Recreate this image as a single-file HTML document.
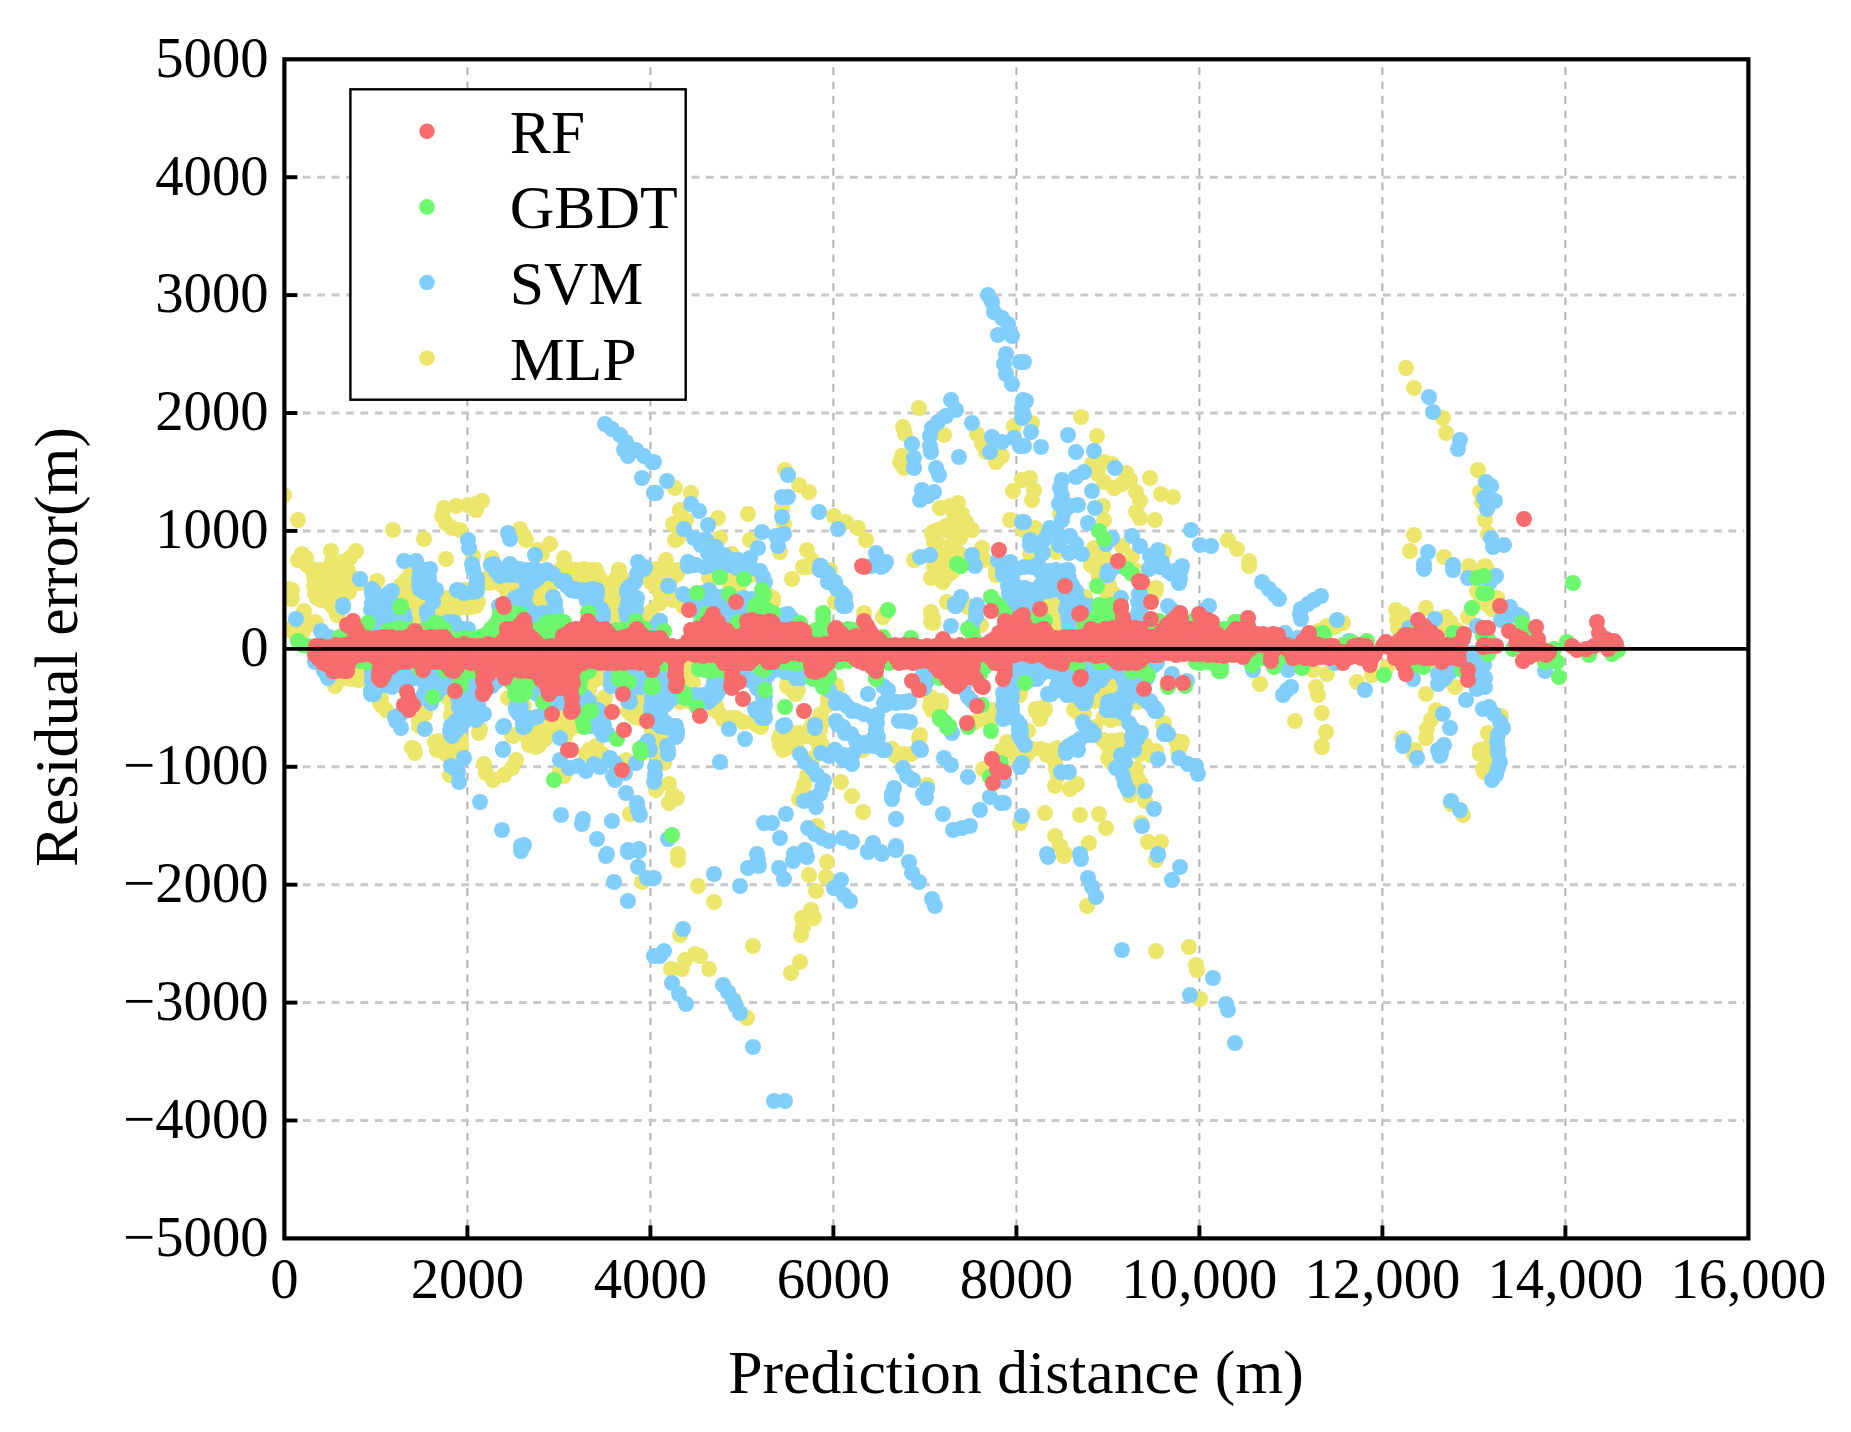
<!DOCTYPE html>
<html><head><meta charset="utf-8"><title>Residual error</title>
<style>html,body{margin:0;padding:0;background:#fff}svg{display:block}text{font-family:"Liberation Serif",serif;fill:#000}</style></head><body>
<svg width="1851" height="1432" viewBox="0 0 1851 1432">
<rect width="1851" height="1432" fill="#fff"/>
<g stroke="#b2b2b2" stroke-width="2" stroke-dasharray="7.6 6.8" fill="none"><line x1="467.4" y1="67.3" x2="467.4" y2="1238.4"/><line x1="650.4" y1="67.3" x2="650.4" y2="1238.4"/><line x1="833.4" y1="67.3" x2="833.4" y2="1238.4"/><line x1="1016.4" y1="67.3" x2="1016.4" y2="1238.4"/><line x1="1199.4" y1="67.3" x2="1199.4" y2="1238.4"/><line x1="1382.4" y1="67.3" x2="1382.4" y2="1238.4"/><line x1="1565.4" y1="67.3" x2="1565.4" y2="1238.4"/></g>
<g stroke="#c8c8c8" stroke-width="3" stroke-dasharray="7.8 6.6" fill="none"><line x1="288.4" y1="1120.5" x2="1744.4" y2="1120.5"/><line x1="288.4" y1="1002.6" x2="1744.4" y2="1002.6"/><line x1="288.4" y1="884.7" x2="1744.4" y2="884.7"/><line x1="288.4" y1="766.8" x2="1744.4" y2="766.8"/><line x1="288.4" y1="530.9" x2="1744.4" y2="530.9"/><line x1="288.4" y1="413.0" x2="1744.4" y2="413.0"/><line x1="288.4" y1="295.1" x2="1744.4" y2="295.1"/><line x1="288.4" y1="177.2" x2="1744.4" y2="177.2"/></g>
<clipPath id="cp"><rect x="284.4" y="59.3" width="1464.0" height="1179.1000000000001"/></clipPath>
<g clip-path="url(#cp)">
<g fill="#ECE66B">
<circle cx="284" cy="495" r="8"/><circle cx="298" cy="520" r="8"/><circle cx="393" cy="530" r="8"/><circle cx="424" cy="539" r="8"/><circle cx="444" cy="508" r="8"/><circle cx="456" cy="506" r="8"/><circle cx="468" cy="505" r="8"/><circle cx="476" cy="504" r="8"/><circle cx="482" cy="501" r="8"/><circle cx="442" cy="516" r="8"/><circle cx="446" cy="523" r="8"/><circle cx="452" cy="528" r="8"/><circle cx="460" cy="530" r="8"/><circle cx="476" cy="510" r="8"/><circle cx="520" cy="529" r="8"/><circle cx="524" cy="536" r="8"/><circle cx="526" cy="540" r="8"/><circle cx="550" cy="544" r="8"/><circle cx="542" cy="554" r="8"/><circle cx="538" cy="550" r="8"/><circle cx="564" cy="558" r="8"/><circle cx="446" cy="559" r="8"/><circle cx="492" cy="558" r="8"/><circle cx="473" cy="556" r="8"/><circle cx="302" cy="554" r="8"/><circle cx="306" cy="558" r="8"/><circle cx="331" cy="551" r="8"/><circle cx="356" cy="551" r="8"/><circle cx="350" cy="558" r="8"/><circle cx="342" cy="562" r="8"/><circle cx="332" cy="562" r="8"/><circle cx="298" cy="560" r="8"/><circle cx="919" cy="408" r="8"/><circle cx="903" cy="427" r="8"/><circle cx="905" cy="434" r="8"/><circle cx="944" cy="435" r="8"/><circle cx="902" cy="456" r="8"/><circle cx="900" cy="462" r="8"/><circle cx="904" cy="468" r="8"/><circle cx="977" cy="434" r="8"/><circle cx="982" cy="444" r="8"/><circle cx="986" cy="452" r="8"/><circle cx="996" cy="462" r="8"/><circle cx="1002" cy="456" r="8"/><circle cx="1014" cy="426" r="8"/><circle cx="785" cy="470" r="8"/><circle cx="799" cy="485" r="8"/><circle cx="809" cy="492" r="8"/><circle cx="675" cy="488" r="8"/><circle cx="691" cy="493" r="8"/><circle cx="680" cy="510" r="8"/><circle cx="674" cy="524" r="8"/><circle cx="678" cy="538" r="8"/><circle cx="686" cy="520" r="8"/><circle cx="718" cy="518" r="8"/><circle cx="720" cy="538" r="8"/><circle cx="732" cy="554" r="8"/><circle cx="748" cy="514" r="8"/><circle cx="750" cy="540" r="8"/><circle cx="782" cy="508" r="8"/><circle cx="784" cy="524" r="8"/><circle cx="834" cy="516" r="8"/><circle cx="846" cy="522" r="8"/><circle cx="858" cy="528" r="8"/><circle cx="866" cy="540" r="8"/><circle cx="807" cy="550" r="8"/><circle cx="812" cy="560" r="8"/><circle cx="780" cy="552" r="8"/><circle cx="666" cy="560" r="8"/><circle cx="958" cy="503" r="8"/><circle cx="950" cy="506" r="8"/><circle cx="940" cy="508" r="8"/><circle cx="954" cy="514" r="8"/><circle cx="962" cy="514" r="8"/><circle cx="958" cy="522" r="8"/><circle cx="966" cy="522" r="8"/><circle cx="946" cy="526" r="8"/><circle cx="938" cy="530" r="8"/><circle cx="932" cy="534" r="8"/><circle cx="950" cy="532" r="8"/><circle cx="962" cy="530" r="8"/><circle cx="972" cy="530" r="8"/><circle cx="934" cy="542" r="8"/><circle cx="952" cy="544" r="8"/><circle cx="960" cy="538" r="8"/><circle cx="948" cy="554" r="8"/><circle cx="960" cy="554" r="8"/><circle cx="982" cy="548" r="8"/><circle cx="984" cy="560" r="8"/><circle cx="942" cy="562" r="8"/><circle cx="1013" cy="491" r="8"/><circle cx="1010" cy="520" r="8"/><circle cx="1022" cy="480" r="8"/><circle cx="1023" cy="530" r="8"/><circle cx="914" cy="560" r="8"/><circle cx="1081" cy="417" r="8"/><circle cx="1097" cy="436" r="8"/><circle cx="1032" cy="423" r="8"/><circle cx="1150" cy="478" r="8"/><circle cx="1161" cy="494" r="8"/><circle cx="1173" cy="497" r="8"/><circle cx="1030" cy="478" r="8"/><circle cx="1034" cy="490" r="8"/><circle cx="1032" cy="500" r="8"/><circle cx="1092" cy="464" r="8"/><circle cx="1104" cy="462" r="8"/><circle cx="1112" cy="464" r="8"/><circle cx="1098" cy="474" r="8"/><circle cx="1126" cy="473" r="8"/><circle cx="1130" cy="480" r="8"/><circle cx="1104" cy="482" r="8"/><circle cx="1114" cy="488" r="8"/><circle cx="1122" cy="484" r="8"/><circle cx="1136" cy="492" r="8"/><circle cx="1140" cy="501" r="8"/><circle cx="1136" cy="512" r="8"/><circle cx="1140" cy="518" r="8"/><circle cx="1103" cy="506" r="8"/><circle cx="1104" cy="520" r="8"/><circle cx="1155" cy="520" r="8"/><circle cx="1228" cy="540" r="8"/><circle cx="1237" cy="549" r="8"/><circle cx="1249" cy="561" r="8"/><circle cx="1035" cy="528" r="8"/><circle cx="1094" cy="548" r="8"/><circle cx="1104" cy="556" r="8"/><circle cx="1094" cy="560" r="8"/><circle cx="1122" cy="546" r="8"/><circle cx="1132" cy="556" r="8"/><circle cx="1164" cy="552" r="8"/><circle cx="1056" cy="552" r="8"/><circle cx="1030" cy="554" r="8"/><circle cx="1060" cy="514" r="8"/><circle cx="1406" cy="368" r="8"/><circle cx="1414" cy="388" r="8"/><circle cx="1443" cy="418" r="8"/><circle cx="1446" cy="433" r="8"/><circle cx="1478" cy="470" r="8"/><circle cx="1480" cy="492" r="8"/><circle cx="1482" cy="502" r="8"/><circle cx="1485" cy="520" r="8"/><circle cx="1488" cy="534" r="8"/><circle cx="1414" cy="535" r="8"/><circle cx="1410" cy="551" r="8"/><circle cx="1444" cy="557" r="8"/><circle cx="1469" cy="566" r="8"/><circle cx="1485" cy="566" r="8"/><circle cx="642" cy="882" r="8"/><circle cx="678" cy="860" r="8"/><circle cx="698" cy="886" r="8"/><circle cx="714" cy="902" r="8"/><circle cx="680" cy="935" r="8"/><circle cx="695" cy="954" r="8"/><circle cx="700" cy="956" r="8"/><circle cx="685" cy="960" r="8"/><circle cx="682" cy="969" r="8"/><circle cx="671" cy="969" r="8"/><circle cx="709" cy="969" r="8"/><circle cx="753" cy="946" r="8"/><circle cx="747" cy="1018" r="8"/><circle cx="734" cy="1000" r="8"/><circle cx="827" cy="862" r="8"/><circle cx="809" cy="875" r="8"/><circle cx="826" cy="877" r="8"/><circle cx="816" cy="891" r="8"/><circle cx="811" cy="910" r="8"/><circle cx="802" cy="918" r="8"/><circle cx="814" cy="918" r="8"/><circle cx="803" cy="927" r="8"/><circle cx="801" cy="935" r="8"/><circle cx="800" cy="962" r="8"/><circle cx="791" cy="973" r="8"/><circle cx="1064" cy="856" r="8"/><circle cx="1156" cy="860" r="8"/><circle cx="1087" cy="906" r="8"/><circle cx="1156" cy="951" r="8"/><circle cx="1189" cy="947" r="8"/><circle cx="1196" cy="965" r="8"/><circle cx="1197" cy="970" r="8"/><circle cx="1200" cy="999" r="8"/><circle cx="307" cy="565" r="8"/><circle cx="312" cy="569" r="8"/><circle cx="320" cy="570" r="8"/><circle cx="327" cy="570" r="8"/><circle cx="335" cy="570" r="8"/><circle cx="343" cy="569" r="8"/><circle cx="348" cy="571" r="8"/><circle cx="411" cy="569" r="8"/><circle cx="314" cy="577" r="8"/><circle cx="320" cy="578" r="8"/><circle cx="328" cy="578" r="8"/><circle cx="336" cy="577" r="8"/><circle cx="345" cy="579" r="8"/><circle cx="351" cy="578" r="8"/><circle cx="377" cy="581" r="8"/><circle cx="405" cy="581" r="8"/><circle cx="408" cy="579" r="8"/><circle cx="488" cy="578" r="8"/><circle cx="289" cy="589" r="8"/><circle cx="292" cy="590" r="8"/><circle cx="314" cy="586" r="8"/><circle cx="319" cy="585" r="8"/><circle cx="327" cy="587" r="8"/><circle cx="335" cy="585" r="8"/><circle cx="344" cy="587" r="8"/><circle cx="351" cy="586" r="8"/><circle cx="360" cy="583" r="8"/><circle cx="401" cy="585" r="8"/><circle cx="407" cy="585" r="8"/><circle cx="464" cy="590" r="8"/><circle cx="489" cy="583" r="8"/><circle cx="496" cy="582" r="8"/><circle cx="503" cy="586" r="8"/><circle cx="511" cy="585" r="8"/><circle cx="519" cy="585" r="8"/><circle cx="288" cy="593" r="8"/><circle cx="291" cy="593" r="8"/><circle cx="315" cy="594" r="8"/><circle cx="319" cy="595" r="8"/><circle cx="328" cy="593" r="8"/><circle cx="335" cy="594" r="8"/><circle cx="344" cy="593" r="8"/><circle cx="349" cy="592" r="8"/><circle cx="399" cy="595" r="8"/><circle cx="408" cy="593" r="8"/><circle cx="447" cy="598" r="8"/><circle cx="508" cy="595" r="8"/><circle cx="287" cy="598" r="8"/><circle cx="292" cy="599" r="8"/><circle cx="317" cy="598" r="8"/><circle cx="321" cy="600" r="8"/><circle cx="329" cy="602" r="8"/><circle cx="335" cy="601" r="8"/><circle cx="409" cy="602" r="8"/><circle cx="415" cy="603" r="8"/><circle cx="424" cy="603" r="8"/><circle cx="440" cy="603" r="8"/><circle cx="449" cy="601" r="8"/><circle cx="455" cy="601" r="8"/><circle cx="465" cy="603" r="8"/><circle cx="471" cy="603" r="8"/><circle cx="478" cy="602" r="8"/><circle cx="304" cy="611" r="8"/><circle cx="332" cy="606" r="8"/><circle cx="335" cy="609" r="8"/><circle cx="416" cy="609" r="8"/><circle cx="439" cy="610" r="8"/><circle cx="449" cy="610" r="8"/><circle cx="456" cy="610" r="8"/><circle cx="464" cy="607" r="8"/><circle cx="471" cy="607" r="8"/><circle cx="476" cy="606" r="8"/><circle cx="315" cy="622" r="8"/><circle cx="316" cy="623" r="8"/><circle cx="337" cy="615" r="8"/><circle cx="415" cy="619" r="8"/><circle cx="288" cy="629" r="8"/><circle cx="295" cy="626" r="8"/><circle cx="304" cy="630" r="8"/><circle cx="311" cy="624" r="8"/><circle cx="288" cy="629" r="8"/><circle cx="295" cy="633" r="8"/><circle cx="301" cy="634" r="8"/><circle cx="359" cy="675" r="8"/><circle cx="337" cy="682" r="8"/><circle cx="345" cy="678" r="8"/><circle cx="351" cy="679" r="8"/><circle cx="359" cy="680" r="8"/><circle cx="335" cy="686" r="8"/><circle cx="381" cy="699" r="8"/><circle cx="447" cy="697" r="8"/><circle cx="508" cy="698" r="8"/><circle cx="380" cy="703" r="8"/><circle cx="381" cy="705" r="8"/><circle cx="423" cy="705" r="8"/><circle cx="452" cy="706" r="8"/><circle cx="386" cy="710" r="8"/><circle cx="425" cy="714" r="8"/><circle cx="451" cy="715" r="8"/><circle cx="420" cy="726" r="8"/><circle cx="419" cy="721" r="8"/><circle cx="419" cy="726" r="8"/><circle cx="480" cy="729" r="8"/><circle cx="512" cy="735" r="8"/><circle cx="435" cy="742" r="8"/><circle cx="439" cy="741" r="8"/><circle cx="461" cy="739" r="8"/><circle cx="479" cy="733" r="8"/><circle cx="513" cy="736" r="8"/><circle cx="412" cy="748" r="8"/><circle cx="414" cy="749" r="8"/><circle cx="437" cy="746" r="8"/><circle cx="441" cy="745" r="8"/><circle cx="449" cy="745" r="8"/><circle cx="456" cy="747" r="8"/><circle cx="461" cy="745" r="8"/><circle cx="561" cy="569" r="8"/><circle cx="569" cy="569" r="8"/><circle cx="576" cy="570" r="8"/><circle cx="584" cy="569" r="8"/><circle cx="592" cy="570" r="8"/><circle cx="596" cy="570" r="8"/><circle cx="619" cy="570" r="8"/><circle cx="619" cy="570" r="8"/><circle cx="656" cy="569" r="8"/><circle cx="664" cy="569" r="8"/><circle cx="671" cy="570" r="8"/><circle cx="679" cy="570" r="8"/><circle cx="576" cy="579" r="8"/><circle cx="583" cy="577" r="8"/><circle cx="592" cy="578" r="8"/><circle cx="599" cy="577" r="8"/><circle cx="607" cy="583" r="8"/><circle cx="616" cy="579" r="8"/><circle cx="623" cy="579" r="8"/><circle cx="649" cy="578" r="8"/><circle cx="656" cy="579" r="8"/><circle cx="663" cy="579" r="8"/><circle cx="672" cy="578" r="8"/><circle cx="677" cy="574" r="8"/><circle cx="709" cy="578" r="8"/><circle cx="712" cy="579" r="8"/><circle cx="729" cy="577" r="8"/><circle cx="737" cy="577" r="8"/><circle cx="752" cy="575" r="8"/><circle cx="544" cy="587" r="8"/><circle cx="551" cy="585" r="8"/><circle cx="607" cy="587" r="8"/><circle cx="615" cy="585" r="8"/><circle cx="651" cy="582" r="8"/><circle cx="655" cy="586" r="8"/><circle cx="730" cy="586" r="8"/><circle cx="736" cy="585" r="8"/><circle cx="739" cy="587" r="8"/><circle cx="535" cy="594" r="8"/><circle cx="544" cy="594" r="8"/><circle cx="609" cy="594" r="8"/><circle cx="615" cy="593" r="8"/><circle cx="660" cy="593" r="8"/><circle cx="664" cy="594" r="8"/><circle cx="673" cy="594" r="8"/><circle cx="536" cy="603" r="8"/><circle cx="544" cy="602" r="8"/><circle cx="607" cy="601" r="8"/><circle cx="617" cy="602" r="8"/><circle cx="660" cy="603" r="8"/><circle cx="663" cy="599" r="8"/><circle cx="673" cy="600" r="8"/><circle cx="679" cy="601" r="8"/><circle cx="617" cy="611" r="8"/><circle cx="648" cy="614" r="8"/><circle cx="652" cy="611" r="8"/><circle cx="683" cy="606" r="8"/><circle cx="617" cy="617" r="8"/><circle cx="647" cy="618" r="8"/><circle cx="689" cy="667" r="8"/><circle cx="600" cy="673" r="8"/><circle cx="688" cy="674" r="8"/><circle cx="593" cy="681" r="8"/><circle cx="600" cy="678" r="8"/><circle cx="689" cy="683" r="8"/><circle cx="693" cy="683" r="8"/><circle cx="589" cy="690" r="8"/><circle cx="599" cy="702" r="8"/><circle cx="605" cy="697" r="8"/><circle cx="639" cy="697" r="8"/><circle cx="524" cy="706" r="8"/><circle cx="604" cy="702" r="8"/><circle cx="639" cy="705" r="8"/><circle cx="680" cy="702" r="8"/><circle cx="689" cy="701" r="8"/><circle cx="716" cy="705" r="8"/><circle cx="561" cy="714" r="8"/><circle cx="628" cy="711" r="8"/><circle cx="631" cy="714" r="8"/><circle cx="641" cy="715" r="8"/><circle cx="715" cy="710" r="8"/><circle cx="719" cy="713" r="8"/><circle cx="729" cy="718" r="8"/><circle cx="734" cy="718" r="8"/><circle cx="544" cy="723" r="8"/><circle cx="552" cy="721" r="8"/><circle cx="560" cy="722" r="8"/><circle cx="569" cy="721" r="8"/><circle cx="575" cy="722" r="8"/><circle cx="635" cy="717" r="8"/><circle cx="639" cy="718" r="8"/><circle cx="723" cy="719" r="8"/><circle cx="728" cy="722" r="8"/><circle cx="736" cy="718" r="8"/><circle cx="743" cy="722" r="8"/><circle cx="752" cy="722" r="8"/><circle cx="536" cy="730" r="8"/><circle cx="543" cy="731" r="8"/><circle cx="551" cy="731" r="8"/><circle cx="559" cy="729" r="8"/><circle cx="569" cy="730" r="8"/><circle cx="575" cy="726" r="8"/><circle cx="652" cy="731" r="8"/><circle cx="757" cy="725" r="8"/><circle cx="761" cy="727" r="8"/><circle cx="528" cy="739" r="8"/><circle cx="536" cy="738" r="8"/><circle cx="545" cy="739" r="8"/><circle cx="552" cy="734" r="8"/><circle cx="565" cy="737" r="8"/><circle cx="655" cy="737" r="8"/><circle cx="663" cy="738" r="8"/><circle cx="529" cy="745" r="8"/><circle cx="536" cy="747" r="8"/><circle cx="539" cy="745" r="8"/><circle cx="589" cy="750" r="8"/><circle cx="592" cy="751" r="8"/><circle cx="596" cy="746" r="8"/><circle cx="656" cy="747" r="8"/><circle cx="803" cy="567" r="8"/><circle cx="808" cy="567" r="8"/><circle cx="830" cy="570" r="8"/><circle cx="949" cy="570" r="8"/><circle cx="953" cy="571" r="8"/><circle cx="996" cy="570" r="8"/><circle cx="792" cy="579" r="8"/><circle cx="931" cy="578" r="8"/><circle cx="935" cy="577" r="8"/><circle cx="945" cy="578" r="8"/><circle cx="949" cy="574" r="8"/><circle cx="996" cy="575" r="8"/><circle cx="828" cy="582" r="8"/><circle cx="943" cy="582" r="8"/><circle cx="768" cy="595" r="8"/><circle cx="773" cy="598" r="8"/><circle cx="773" cy="602" r="8"/><circle cx="835" cy="602" r="8"/><circle cx="947" cy="602" r="8"/><circle cx="968" cy="607" r="8"/><circle cx="864" cy="613" r="8"/><circle cx="931" cy="612" r="8"/><circle cx="931" cy="614" r="8"/><circle cx="967" cy="605" r="8"/><circle cx="883" cy="617" r="8"/><circle cx="885" cy="614" r="8"/><circle cx="933" cy="618" r="8"/><circle cx="932" cy="617" r="8"/><circle cx="933" cy="623" r="8"/><circle cx="931" cy="622" r="8"/><circle cx="981" cy="625" r="8"/><circle cx="788" cy="682" r="8"/><circle cx="836" cy="685" r="8"/><circle cx="787" cy="686" r="8"/><circle cx="793" cy="691" r="8"/><circle cx="798" cy="690" r="8"/><circle cx="837" cy="690" r="8"/><circle cx="795" cy="693" r="8"/><circle cx="796" cy="694" r="8"/><circle cx="828" cy="698" r="8"/><circle cx="931" cy="697" r="8"/><circle cx="935" cy="701" r="8"/><circle cx="941" cy="701" r="8"/><circle cx="828" cy="705" r="8"/><circle cx="930" cy="706" r="8"/><circle cx="936" cy="706" r="8"/><circle cx="941" cy="705" r="8"/><circle cx="992" cy="710" r="8"/><circle cx="820" cy="717" r="8"/><circle cx="821" cy="714" r="8"/><circle cx="932" cy="710" r="8"/><circle cx="988" cy="715" r="8"/><circle cx="991" cy="713" r="8"/><circle cx="812" cy="725" r="8"/><circle cx="823" cy="722" r="8"/><circle cx="975" cy="722" r="8"/><circle cx="984" cy="719" r="8"/><circle cx="991" cy="722" r="8"/><circle cx="781" cy="734" r="8"/><circle cx="791" cy="733" r="8"/><circle cx="799" cy="733" r="8"/><circle cx="809" cy="730" r="8"/><circle cx="820" cy="730" r="8"/><circle cx="920" cy="735" r="8"/><circle cx="779" cy="739" r="8"/><circle cx="785" cy="737" r="8"/><circle cx="793" cy="739" r="8"/><circle cx="799" cy="737" r="8"/><circle cx="807" cy="736" r="8"/><circle cx="815" cy="739" r="8"/><circle cx="819" cy="739" r="8"/><circle cx="919" cy="739" r="8"/><circle cx="780" cy="745" r="8"/><circle cx="784" cy="745" r="8"/><circle cx="791" cy="747" r="8"/><circle cx="796" cy="747" r="8"/><circle cx="819" cy="746" r="8"/><circle cx="823" cy="746" r="8"/><circle cx="892" cy="749" r="8"/><circle cx="1002" cy="750" r="8"/><circle cx="1091" cy="565" r="8"/><circle cx="1097" cy="569" r="8"/><circle cx="1137" cy="571" r="8"/><circle cx="1099" cy="578" r="8"/><circle cx="1104" cy="587" r="8"/><circle cx="1109" cy="585" r="8"/><circle cx="1152" cy="589" r="8"/><circle cx="1156" cy="588" r="8"/><circle cx="1085" cy="597" r="8"/><circle cx="1107" cy="594" r="8"/><circle cx="1113" cy="593" r="8"/><circle cx="1153" cy="594" r="8"/><circle cx="1156" cy="590" r="8"/><circle cx="1048" cy="602" r="8"/><circle cx="1056" cy="603" r="8"/><circle cx="1049" cy="610" r="8"/><circle cx="1056" cy="610" r="8"/><circle cx="1057" cy="618" r="8"/><circle cx="1057" cy="626" r="8"/><circle cx="1113" cy="682" r="8"/><circle cx="1020" cy="691" r="8"/><circle cx="1104" cy="690" r="8"/><circle cx="1111" cy="691" r="8"/><circle cx="1020" cy="695" r="8"/><circle cx="1097" cy="699" r="8"/><circle cx="1036" cy="709" r="8"/><circle cx="1039" cy="709" r="8"/><circle cx="1044" cy="707" r="8"/><circle cx="1076" cy="707" r="8"/><circle cx="1095" cy="701" r="8"/><circle cx="1137" cy="702" r="8"/><circle cx="1036" cy="711" r="8"/><circle cx="1040" cy="713" r="8"/><circle cx="1045" cy="710" r="8"/><circle cx="1074" cy="710" r="8"/><circle cx="1080" cy="715" r="8"/><circle cx="1084" cy="714" r="8"/><circle cx="1040" cy="719" r="8"/><circle cx="1095" cy="727" r="8"/><circle cx="1104" cy="717" r="8"/><circle cx="1111" cy="720" r="8"/><circle cx="1119" cy="718" r="8"/><circle cx="1164" cy="723" r="8"/><circle cx="1163" cy="725" r="8"/><circle cx="1028" cy="731" r="8"/><circle cx="1007" cy="742" r="8"/><circle cx="1103" cy="740" r="8"/><circle cx="1112" cy="741" r="8"/><circle cx="1120" cy="740" r="8"/><circle cx="1176" cy="741" r="8"/><circle cx="1182" cy="742" r="8"/><circle cx="1008" cy="745" r="8"/><circle cx="1017" cy="747" r="8"/><circle cx="1032" cy="749" r="8"/><circle cx="1041" cy="749" r="8"/><circle cx="1048" cy="751" r="8"/><circle cx="1057" cy="748" r="8"/><circle cx="1108" cy="746" r="8"/><circle cx="1112" cy="746" r="8"/><circle cx="1120" cy="747" r="8"/><circle cx="1145" cy="745" r="8"/><circle cx="1152" cy="751" r="8"/><circle cx="1156" cy="751" r="8"/><circle cx="1179" cy="747" r="8"/><circle cx="1180" cy="747" r="8"/><circle cx="1249" cy="566" r="8"/><circle cx="1319" cy="631" r="8"/><circle cx="1327" cy="626" r="8"/><circle cx="1335" cy="627" r="8"/><circle cx="1343" cy="623" r="8"/><circle cx="1396" cy="610" r="8"/><circle cx="1403" cy="614" r="8"/><circle cx="1397" cy="620" r="8"/><circle cx="1403" cy="623" r="8"/><circle cx="1398" cy="628" r="8"/><circle cx="1426" cy="608" r="8"/><circle cx="1446" cy="617" r="8"/><circle cx="1451" cy="623" r="8"/><circle cx="1446" cy="628" r="8"/><circle cx="1457" cy="630" r="8"/><circle cx="1468" cy="617" r="8"/><circle cx="1477" cy="591" r="8"/><circle cx="1470" cy="571" r="8"/><circle cx="1481" cy="602" r="8"/><circle cx="1260" cy="684" r="8"/><circle cx="1313" cy="670" r="8"/><circle cx="1327" cy="674" r="8"/><circle cx="1316" cy="687" r="8"/><circle cx="1318" cy="695" r="8"/><circle cx="1357" cy="682" r="8"/><circle cx="1372" cy="675" r="8"/><circle cx="1387" cy="667" r="8"/><circle cx="1426" cy="694" r="8"/><circle cx="1455" cy="687" r="8"/><circle cx="1295" cy="721" r="8"/><circle cx="1322" cy="713" r="8"/><circle cx="1326" cy="732" r="8"/><circle cx="1322" cy="746" r="8"/><circle cx="1436" cy="710" r="8"/><circle cx="1431" cy="720" r="8"/><circle cx="1427" cy="729" r="8"/><circle cx="1426" cy="738" r="8"/><circle cx="1402" cy="738" r="8"/><circle cx="1415" cy="750" r="8"/><circle cx="1480" cy="750" r="8"/><circle cx="1432" cy="665" r="8"/><circle cx="1487" cy="569" r="8"/><circle cx="1497" cy="598" r="8"/><circle cx="1488" cy="605" r="8"/><circle cx="1492" cy="609" r="8"/><circle cx="1501" cy="716" r="8"/><circle cx="1488" cy="733" r="8"/><circle cx="1487" cy="748" r="8"/><circle cx="415" cy="753" r="8"/><circle cx="437" cy="750" r="8"/><circle cx="446" cy="754" r="8"/><circle cx="451" cy="758" r="8"/><circle cx="450" cy="775" r="8"/><circle cx="484" cy="764" r="8"/><circle cx="486" cy="773" r="8"/><circle cx="493" cy="780" r="8"/><circle cx="504" cy="775" r="8"/><circle cx="512" cy="768" r="8"/><circle cx="516" cy="760" r="8"/><circle cx="594" cy="753" r="8"/><circle cx="602" cy="754" r="8"/><circle cx="586" cy="754" r="8"/><circle cx="626" cy="760" r="8"/><circle cx="564" cy="776" r="8"/><circle cx="560" cy="772" r="8"/><circle cx="659" cy="760" r="8"/><circle cx="664" cy="763" r="8"/><circle cx="669" cy="784" r="8"/><circle cx="656" cy="790" r="8"/><circle cx="673" cy="795" r="8"/><circle cx="677" cy="798" r="8"/><circle cx="669" cy="803" r="8"/><circle cx="630" cy="814" r="8"/><circle cx="678" cy="854" r="8"/><circle cx="807" cy="776" r="8"/><circle cx="804" cy="785" r="8"/><circle cx="802" cy="793" r="8"/><circle cx="799" cy="799" r="8"/><circle cx="841" cy="782" r="8"/><circle cx="852" cy="796" r="8"/><circle cx="863" cy="812" r="8"/><circle cx="895" cy="755" r="8"/><circle cx="903" cy="754" r="8"/><circle cx="911" cy="754" r="8"/><circle cx="899" cy="758" r="8"/><circle cx="983" cy="769" r="8"/><circle cx="817" cy="826" r="8"/><circle cx="813" cy="758" r="8"/><circle cx="927" cy="785" r="8"/><circle cx="1003" cy="751" r="8"/><circle cx="863" cy="750" r="8"/><circle cx="783" cy="750" r="8"/><circle cx="1008" cy="751" r="8"/><circle cx="1017" cy="760" r="8"/><circle cx="1027" cy="755" r="8"/><circle cx="1047" cy="755" r="8"/><circle cx="1055" cy="762" r="8"/><circle cx="1056" cy="769" r="8"/><circle cx="1058" cy="776" r="8"/><circle cx="1055" cy="786" r="8"/><circle cx="1070" cy="789" r="8"/><circle cx="1077" cy="784" r="8"/><circle cx="1020" cy="823" r="8"/><circle cx="1045" cy="813" r="8"/><circle cx="1080" cy="815" r="8"/><circle cx="1099" cy="814" r="8"/><circle cx="1106" cy="828" r="8"/><circle cx="1055" cy="836" r="8"/><circle cx="1060" cy="846" r="8"/><circle cx="1065" cy="854" r="8"/><circle cx="1089" cy="843" r="8"/><circle cx="1108" cy="758" r="8"/><circle cx="1112" cy="763" r="8"/><circle cx="1136" cy="769" r="8"/><circle cx="1138" cy="779" r="8"/><circle cx="1141" cy="784" r="8"/><circle cx="1145" cy="801" r="8"/><circle cx="1130" cy="795" r="8"/><circle cx="1141" cy="823" r="8"/><circle cx="1148" cy="842" r="8"/><circle cx="1161" cy="842" r="8"/><circle cx="1140" cy="754" r="8"/><circle cx="1151" cy="755" r="8"/><circle cx="1178" cy="751" r="8"/><circle cx="1322" cy="747" r="8"/><circle cx="1414" cy="755" r="8"/><circle cx="1480" cy="754" r="8"/><circle cx="1483" cy="769" r="8"/><circle cx="1463" cy="815" r="8"/><circle cx="1451" cy="804" r="8"/><circle cx="1485" cy="755" r="8"/><circle cx="1487" cy="764" r="8"/><circle cx="1484" cy="772" r="8"/><circle cx="673" cy="524" r="8"/><circle cx="675" cy="540" r="8"/><circle cx="680" cy="511" r="8"/><circle cx="933" cy="532" r="8"/><circle cx="937" cy="542" r="8"/><circle cx="944" cy="555" r="8"/><circle cx="934" cy="566" r="8"/>
</g>
<g fill="#80CEFB">
<circle cx="605" cy="424" r="8"/><circle cx="612" cy="429" r="8"/><circle cx="620" cy="435" r="8"/><circle cx="626" cy="442" r="8"/><circle cx="624" cy="450" r="8"/><circle cx="628" cy="456" r="8"/><circle cx="636" cy="450" r="8"/><circle cx="644" cy="456" r="8"/><circle cx="652" cy="462" r="8"/><circle cx="642" cy="478" r="8"/><circle cx="654" cy="493" r="8"/><circle cx="468" cy="540" r="8"/><circle cx="469" cy="548" r="8"/><circle cx="508" cy="533" r="8"/><circle cx="510" cy="539" r="8"/><circle cx="535" cy="555" r="8"/><circle cx="404" cy="561" r="8"/><circle cx="416" cy="561" r="8"/><circle cx="638" cy="562" r="8"/><circle cx="472" cy="564" r="8"/><circle cx="494" cy="564" r="8"/><circle cx="510" cy="564" r="8"/><circle cx="988" cy="295" r="8"/><circle cx="992" cy="302" r="8"/><circle cx="994" cy="312" r="8"/><circle cx="1002" cy="318" r="8"/><circle cx="1008" cy="324" r="8"/><circle cx="998" cy="335" r="8"/><circle cx="1012" cy="336" r="8"/><circle cx="1006" cy="354" r="8"/><circle cx="1004" cy="364" r="8"/><circle cx="1020" cy="362" r="8"/><circle cx="1006" cy="374" r="8"/><circle cx="1012" cy="384" r="8"/><circle cx="951" cy="400" r="8"/><circle cx="956" cy="410" r="8"/><circle cx="946" cy="416" r="8"/><circle cx="938" cy="422" r="8"/><circle cx="932" cy="428" r="8"/><circle cx="930" cy="436" r="8"/><circle cx="930" cy="446" r="8"/><circle cx="931" cy="452" r="8"/><circle cx="972" cy="423" r="8"/><circle cx="912" cy="444" r="8"/><circle cx="914" cy="458" r="8"/><circle cx="914" cy="468" r="8"/><circle cx="959" cy="457" r="8"/><circle cx="936" cy="468" r="8"/><circle cx="939" cy="475" r="8"/><circle cx="922" cy="490" r="8"/><circle cx="934" cy="492" r="8"/><circle cx="920" cy="500" r="8"/><circle cx="928" cy="496" r="8"/><circle cx="992" cy="437" r="8"/><circle cx="990" cy="452" r="8"/><circle cx="1002" cy="442" r="8"/><circle cx="1014" cy="438" r="8"/><circle cx="1020" cy="446" r="8"/><circle cx="1022" cy="408" r="8"/><circle cx="1023" cy="400" r="8"/><circle cx="1022" cy="418" r="8"/><circle cx="788" cy="475" r="8"/><circle cx="782" cy="497" r="8"/><circle cx="788" cy="497" r="8"/><circle cx="782" cy="517" r="8"/><circle cx="819" cy="512" r="8"/><circle cx="838" cy="529" r="8"/><circle cx="762" cy="532" r="8"/><circle cx="776" cy="536" r="8"/><circle cx="784" cy="534" r="8"/><circle cx="778" cy="546" r="8"/><circle cx="758" cy="548" r="8"/><circle cx="667" cy="481" r="8"/><circle cx="654" cy="462" r="8"/><circle cx="656" cy="493" r="8"/><circle cx="691" cy="504" r="8"/><circle cx="699" cy="511" r="8"/><circle cx="684" cy="529" r="8"/><circle cx="694" cy="538" r="8"/><circle cx="708" cy="525" r="8"/><circle cx="704" cy="540" r="8"/><circle cx="714" cy="550" r="8"/><circle cx="724" cy="558" r="8"/><circle cx="738" cy="560" r="8"/><circle cx="750" cy="558" r="8"/><circle cx="688" cy="562" r="8"/><circle cx="876" cy="553" r="8"/><circle cx="886" cy="562" r="8"/><circle cx="920" cy="557" r="8"/><circle cx="930" cy="555" r="8"/><circle cx="972" cy="555" r="8"/><circle cx="998" cy="560" r="8"/><circle cx="1010" cy="562" r="8"/><circle cx="1022" cy="522" r="8"/><circle cx="820" cy="566" r="8"/><circle cx="1024" cy="362" r="8"/><circle cx="1026" cy="401" r="8"/><circle cx="1024" cy="416" r="8"/><circle cx="1031" cy="432" r="8"/><circle cx="1024" cy="446" r="8"/><circle cx="1041" cy="447" r="8"/><circle cx="1068" cy="435" r="8"/><circle cx="1076" cy="452" r="8"/><circle cx="1094" cy="451" r="8"/><circle cx="1115" cy="468" r="8"/><circle cx="1084" cy="472" r="8"/><circle cx="1076" cy="477" r="8"/><circle cx="1062" cy="480" r="8"/><circle cx="1060" cy="488" r="8"/><circle cx="1062" cy="496" r="8"/><circle cx="1092" cy="491" r="8"/><circle cx="1059" cy="504" r="8"/><circle cx="1070" cy="506" r="8"/><circle cx="1078" cy="505" r="8"/><circle cx="1064" cy="512" r="8"/><circle cx="1095" cy="508" r="8"/><circle cx="1088" cy="523" r="8"/><circle cx="1062" cy="520" r="8"/><circle cx="1050" cy="528" r="8"/><circle cx="1058" cy="534" r="8"/><circle cx="1070" cy="536" r="8"/><circle cx="1076" cy="544" r="8"/><circle cx="1082" cy="554" r="8"/><circle cx="1044" cy="540" r="8"/><circle cx="1042" cy="552" r="8"/><circle cx="1030" cy="540" r="8"/><circle cx="1024" cy="522" r="8"/><circle cx="1112" cy="538" r="8"/><circle cx="1106" cy="544" r="8"/><circle cx="1132" cy="536" r="8"/><circle cx="1140" cy="546" r="8"/><circle cx="1150" cy="556" r="8"/><circle cx="1158" cy="550" r="8"/><circle cx="1162" cy="562" r="8"/><circle cx="1191" cy="530" r="8"/><circle cx="1200" cy="545" r="8"/><circle cx="1211" cy="546" r="8"/><circle cx="1182" cy="566" r="8"/><circle cx="1038" cy="564" r="8"/><circle cx="1429" cy="397" r="8"/><circle cx="1433" cy="412" r="8"/><circle cx="1460" cy="440" r="8"/><circle cx="1458" cy="449" r="8"/><circle cx="1486" cy="482" r="8"/><circle cx="1491" cy="486" r="8"/><circle cx="1484" cy="498" r="8"/><circle cx="1495" cy="501" r="8"/><circle cx="1487" cy="509" r="8"/><circle cx="1491" cy="538" r="8"/><circle cx="1493" cy="547" r="8"/><circle cx="1504" cy="545" r="8"/><circle cx="1428" cy="552" r="8"/><circle cx="1424" cy="564" r="8"/><circle cx="1453" cy="565" r="8"/><circle cx="521" cy="851" r="8"/><circle cx="606" cy="856" r="8"/><circle cx="628" cy="852" r="8"/><circle cx="639" cy="851" r="8"/><circle cx="638" cy="867" r="8"/><circle cx="647" cy="878" r="8"/><circle cx="614" cy="882" r="8"/><circle cx="628" cy="901" r="8"/><circle cx="654" cy="956" r="8"/><circle cx="714" cy="874" r="8"/><circle cx="740" cy="886" r="8"/><circle cx="748" cy="868" r="8"/><circle cx="758" cy="860" r="8"/><circle cx="759" cy="866" r="8"/><circle cx="779" cy="868" r="8"/><circle cx="784" cy="879" r="8"/><circle cx="793" cy="861" r="8"/><circle cx="807" cy="857" r="8"/><circle cx="841" cy="880" r="8"/><circle cx="834" cy="888" r="8"/><circle cx="844" cy="895" r="8"/><circle cx="850" cy="901" r="8"/><circle cx="868" cy="852" r="8"/><circle cx="882" cy="854" r="8"/><circle cx="896" cy="850" r="8"/><circle cx="909" cy="862" r="8"/><circle cx="912" cy="873" r="8"/><circle cx="919" cy="882" r="8"/><circle cx="932" cy="899" r="8"/><circle cx="935" cy="906" r="8"/><circle cx="683" cy="929" r="8"/><circle cx="664" cy="951" r="8"/><circle cx="660" cy="956" r="8"/><circle cx="672" cy="983" r="8"/><circle cx="679" cy="994" r="8"/><circle cx="686" cy="1004" r="8"/><circle cx="723" cy="985" r="8"/><circle cx="728" cy="992" r="8"/><circle cx="733" cy="1000" r="8"/><circle cx="736" cy="1006" r="8"/><circle cx="740" cy="1013" r="8"/><circle cx="753" cy="1047" r="8"/><circle cx="774" cy="1101" r="8"/><circle cx="785" cy="1101" r="8"/><circle cx="654" cy="878" r="8"/><circle cx="1048" cy="857" r="8"/><circle cx="1081" cy="859" r="8"/><circle cx="1088" cy="878" r="8"/><circle cx="1092" cy="887" r="8"/><circle cx="1096" cy="897" r="8"/><circle cx="1158" cy="855" r="8"/><circle cx="1180" cy="867" r="8"/><circle cx="1172" cy="880" r="8"/><circle cx="1122" cy="950" r="8"/><circle cx="1213" cy="978" r="8"/><circle cx="1190" cy="995" r="8"/><circle cx="1226" cy="1004" r="8"/><circle cx="1228" cy="1010" r="8"/><circle cx="1235" cy="1043" r="8"/><circle cx="420" cy="571" r="8"/><circle cx="424" cy="570" r="8"/><circle cx="430" cy="569" r="8"/><circle cx="473" cy="569" r="8"/><circle cx="491" cy="565" r="8"/><circle cx="496" cy="571" r="8"/><circle cx="503" cy="570" r="8"/><circle cx="512" cy="570" r="8"/><circle cx="520" cy="569" r="8"/><circle cx="360" cy="579" r="8"/><circle cx="419" cy="578" r="8"/><circle cx="423" cy="578" r="8"/><circle cx="429" cy="578" r="8"/><circle cx="477" cy="578" r="8"/><circle cx="477" cy="582" r="8"/><circle cx="500" cy="576" r="8"/><circle cx="504" cy="575" r="8"/><circle cx="511" cy="575" r="8"/><circle cx="520" cy="576" r="8"/><circle cx="372" cy="591" r="8"/><circle cx="372" cy="589" r="8"/><circle cx="392" cy="591" r="8"/><circle cx="419" cy="586" r="8"/><circle cx="424" cy="585" r="8"/><circle cx="431" cy="586" r="8"/><circle cx="436" cy="590" r="8"/><circle cx="457" cy="590" r="8"/><circle cx="476" cy="585" r="8"/><circle cx="477" cy="587" r="8"/><circle cx="372" cy="594" r="8"/><circle cx="375" cy="593" r="8"/><circle cx="384" cy="597" r="8"/><circle cx="389" cy="593" r="8"/><circle cx="420" cy="589" r="8"/><circle cx="424" cy="592" r="8"/><circle cx="433" cy="595" r="8"/><circle cx="436" cy="590" r="8"/><circle cx="460" cy="591" r="8"/><circle cx="464" cy="593" r="8"/><circle cx="473" cy="592" r="8"/><circle cx="477" cy="591" r="8"/><circle cx="515" cy="598" r="8"/><circle cx="520" cy="596" r="8"/><circle cx="343" cy="605" r="8"/><circle cx="372" cy="603" r="8"/><circle cx="377" cy="602" r="8"/><circle cx="384" cy="603" r="8"/><circle cx="391" cy="602" r="8"/><circle cx="433" cy="602" r="8"/><circle cx="499" cy="606" r="8"/><circle cx="513" cy="602" r="8"/><circle cx="520" cy="603" r="8"/><circle cx="343" cy="607" r="8"/><circle cx="371" cy="610" r="8"/><circle cx="375" cy="611" r="8"/><circle cx="384" cy="610" r="8"/><circle cx="392" cy="611" r="8"/><circle cx="404" cy="614" r="8"/><circle cx="427" cy="613" r="8"/><circle cx="427" cy="611" r="8"/><circle cx="296" cy="619" r="8"/><circle cx="377" cy="617" r="8"/><circle cx="383" cy="618" r="8"/><circle cx="391" cy="617" r="8"/><circle cx="399" cy="618" r="8"/><circle cx="405" cy="619" r="8"/><circle cx="428" cy="617" r="8"/><circle cx="448" cy="622" r="8"/><circle cx="454" cy="622" r="8"/><circle cx="321" cy="631" r="8"/><circle cx="377" cy="625" r="8"/><circle cx="456" cy="627" r="8"/><circle cx="463" cy="629" r="8"/><circle cx="468" cy="629" r="8"/><circle cx="323" cy="634" r="8"/><circle cx="329" cy="637" r="8"/><circle cx="315" cy="662" r="8"/><circle cx="324" cy="671" r="8"/><circle cx="372" cy="673" r="8"/><circle cx="400" cy="674" r="8"/><circle cx="408" cy="673" r="8"/><circle cx="433" cy="674" r="8"/><circle cx="328" cy="678" r="8"/><circle cx="372" cy="681" r="8"/><circle cx="391" cy="682" r="8"/><circle cx="399" cy="683" r="8"/><circle cx="407" cy="681" r="8"/><circle cx="415" cy="678" r="8"/><circle cx="425" cy="683" r="8"/><circle cx="433" cy="683" r="8"/><circle cx="441" cy="682" r="8"/><circle cx="447" cy="683" r="8"/><circle cx="472" cy="682" r="8"/><circle cx="497" cy="681" r="8"/><circle cx="371" cy="691" r="8"/><circle cx="375" cy="690" r="8"/><circle cx="385" cy="685" r="8"/><circle cx="392" cy="687" r="8"/><circle cx="401" cy="685" r="8"/><circle cx="429" cy="689" r="8"/><circle cx="433" cy="691" r="8"/><circle cx="440" cy="689" r="8"/><circle cx="449" cy="687" r="8"/><circle cx="471" cy="691" r="8"/><circle cx="492" cy="686" r="8"/><circle cx="371" cy="694" r="8"/><circle cx="374" cy="694" r="8"/><circle cx="416" cy="701" r="8"/><circle cx="424" cy="694" r="8"/><circle cx="436" cy="695" r="8"/><circle cx="458" cy="698" r="8"/><circle cx="464" cy="699" r="8"/><circle cx="473" cy="699" r="8"/><circle cx="431" cy="703" r="8"/><circle cx="459" cy="707" r="8"/><circle cx="464" cy="705" r="8"/><circle cx="473" cy="706" r="8"/><circle cx="478" cy="705" r="8"/><circle cx="516" cy="707" r="8"/><circle cx="521" cy="707" r="8"/><circle cx="395" cy="717" r="8"/><circle cx="401" cy="714" r="8"/><circle cx="461" cy="713" r="8"/><circle cx="464" cy="714" r="8"/><circle cx="471" cy="714" r="8"/><circle cx="479" cy="713" r="8"/><circle cx="484" cy="714" r="8"/><circle cx="516" cy="710" r="8"/><circle cx="519" cy="714" r="8"/><circle cx="396" cy="718" r="8"/><circle cx="396" cy="721" r="8"/><circle cx="451" cy="726" r="8"/><circle cx="456" cy="721" r="8"/><circle cx="463" cy="723" r="8"/><circle cx="472" cy="718" r="8"/><circle cx="476" cy="720" r="8"/><circle cx="504" cy="726" r="8"/><circle cx="523" cy="722" r="8"/><circle cx="401" cy="728" r="8"/><circle cx="425" cy="729" r="8"/><circle cx="450" cy="731" r="8"/><circle cx="456" cy="731" r="8"/><circle cx="460" cy="727" r="8"/><circle cx="503" cy="727" r="8"/><circle cx="523" cy="727" r="8"/><circle cx="452" cy="736" r="8"/><circle cx="451" cy="734" r="8"/><circle cx="503" cy="749" r="8"/><circle cx="528" cy="570" r="8"/><circle cx="535" cy="569" r="8"/><circle cx="545" cy="571" r="8"/><circle cx="547" cy="570" r="8"/><circle cx="644" cy="569" r="8"/><circle cx="645" cy="567" r="8"/><circle cx="692" cy="565" r="8"/><circle cx="696" cy="565" r="8"/><circle cx="705" cy="567" r="8"/><circle cx="712" cy="565" r="8"/><circle cx="720" cy="570" r="8"/><circle cx="729" cy="565" r="8"/><circle cx="737" cy="568" r="8"/><circle cx="745" cy="571" r="8"/><circle cx="751" cy="568" r="8"/><circle cx="760" cy="571" r="8"/><circle cx="529" cy="577" r="8"/><circle cx="537" cy="579" r="8"/><circle cx="543" cy="574" r="8"/><circle cx="553" cy="574" r="8"/><circle cx="561" cy="581" r="8"/><circle cx="565" cy="581" r="8"/><circle cx="635" cy="582" r="8"/><circle cx="637" cy="574" r="8"/><circle cx="763" cy="577" r="8"/><circle cx="527" cy="585" r="8"/><circle cx="533" cy="582" r="8"/><circle cx="564" cy="581" r="8"/><circle cx="567" cy="586" r="8"/><circle cx="575" cy="589" r="8"/><circle cx="583" cy="590" r="8"/><circle cx="592" cy="589" r="8"/><circle cx="597" cy="590" r="8"/><circle cx="627" cy="590" r="8"/><circle cx="629" cy="587" r="8"/><circle cx="668" cy="586" r="8"/><circle cx="669" cy="586" r="8"/><circle cx="709" cy="590" r="8"/><circle cx="708" cy="591" r="8"/><circle cx="526" cy="593" r="8"/><circle cx="553" cy="597" r="8"/><circle cx="571" cy="590" r="8"/><circle cx="575" cy="591" r="8"/><circle cx="585" cy="595" r="8"/><circle cx="591" cy="595" r="8"/><circle cx="597" cy="594" r="8"/><circle cx="627" cy="593" r="8"/><circle cx="632" cy="595" r="8"/><circle cx="637" cy="598" r="8"/><circle cx="683" cy="594" r="8"/><circle cx="689" cy="597" r="8"/><circle cx="703" cy="593" r="8"/><circle cx="713" cy="595" r="8"/><circle cx="721" cy="597" r="8"/><circle cx="735" cy="599" r="8"/><circle cx="744" cy="598" r="8"/><circle cx="752" cy="599" r="8"/><circle cx="525" cy="603" r="8"/><circle cx="555" cy="602" r="8"/><circle cx="555" cy="607" r="8"/><circle cx="587" cy="601" r="8"/><circle cx="591" cy="603" r="8"/><circle cx="596" cy="601" r="8"/><circle cx="628" cy="603" r="8"/><circle cx="631" cy="602" r="8"/><circle cx="636" cy="603" r="8"/><circle cx="691" cy="601" r="8"/><circle cx="697" cy="603" r="8"/><circle cx="704" cy="603" r="8"/><circle cx="712" cy="601" r="8"/><circle cx="719" cy="601" r="8"/><circle cx="729" cy="601" r="8"/><circle cx="743" cy="601" r="8"/><circle cx="529" cy="610" r="8"/><circle cx="537" cy="614" r="8"/><circle cx="543" cy="613" r="8"/><circle cx="552" cy="611" r="8"/><circle cx="556" cy="611" r="8"/><circle cx="601" cy="609" r="8"/><circle cx="603" cy="613" r="8"/><circle cx="626" cy="610" r="8"/><circle cx="632" cy="611" r="8"/><circle cx="636" cy="610" r="8"/><circle cx="695" cy="610" r="8"/><circle cx="720" cy="610" r="8"/><circle cx="728" cy="610" r="8"/><circle cx="737" cy="609" r="8"/><circle cx="745" cy="609" r="8"/><circle cx="535" cy="618" r="8"/><circle cx="601" cy="618" r="8"/><circle cx="603" cy="618" r="8"/><circle cx="627" cy="617" r="8"/><circle cx="660" cy="621" r="8"/><circle cx="660" cy="621" r="8"/><circle cx="729" cy="618" r="8"/><circle cx="656" cy="626" r="8"/><circle cx="611" cy="675" r="8"/><circle cx="633" cy="673" r="8"/><circle cx="640" cy="675" r="8"/><circle cx="649" cy="674" r="8"/><circle cx="656" cy="674" r="8"/><circle cx="663" cy="673" r="8"/><circle cx="743" cy="675" r="8"/><circle cx="753" cy="674" r="8"/><circle cx="611" cy="683" r="8"/><circle cx="640" cy="681" r="8"/><circle cx="663" cy="682" r="8"/><circle cx="714" cy="681" r="8"/><circle cx="721" cy="683" r="8"/><circle cx="751" cy="681" r="8"/><circle cx="760" cy="681" r="8"/><circle cx="536" cy="689" r="8"/><circle cx="611" cy="686" r="8"/><circle cx="617" cy="686" r="8"/><circle cx="624" cy="689" r="8"/><circle cx="631" cy="689" r="8"/><circle cx="641" cy="687" r="8"/><circle cx="663" cy="689" r="8"/><circle cx="688" cy="695" r="8"/><circle cx="695" cy="695" r="8"/><circle cx="703" cy="695" r="8"/><circle cx="712" cy="689" r="8"/><circle cx="720" cy="689" r="8"/><circle cx="757" cy="688" r="8"/><circle cx="759" cy="689" r="8"/><circle cx="537" cy="694" r="8"/><circle cx="559" cy="697" r="8"/><circle cx="585" cy="697" r="8"/><circle cx="589" cy="701" r="8"/><circle cx="627" cy="697" r="8"/><circle cx="629" cy="698" r="8"/><circle cx="652" cy="699" r="8"/><circle cx="657" cy="698" r="8"/><circle cx="663" cy="697" r="8"/><circle cx="673" cy="698" r="8"/><circle cx="697" cy="699" r="8"/><circle cx="704" cy="697" r="8"/><circle cx="713" cy="698" r="8"/><circle cx="717" cy="694" r="8"/><circle cx="763" cy="697" r="8"/><circle cx="552" cy="706" r="8"/><circle cx="559" cy="703" r="8"/><circle cx="584" cy="707" r="8"/><circle cx="598" cy="710" r="8"/><circle cx="628" cy="701" r="8"/><circle cx="630" cy="702" r="8"/><circle cx="651" cy="707" r="8"/><circle cx="655" cy="705" r="8"/><circle cx="665" cy="705" r="8"/><circle cx="667" cy="703" r="8"/><circle cx="703" cy="701" r="8"/><circle cx="708" cy="702" r="8"/><circle cx="755" cy="709" r="8"/><circle cx="760" cy="707" r="8"/><circle cx="527" cy="718" r="8"/><circle cx="537" cy="717" r="8"/><circle cx="545" cy="712" r="8"/><circle cx="597" cy="715" r="8"/><circle cx="651" cy="714" r="8"/><circle cx="656" cy="714" r="8"/><circle cx="660" cy="713" r="8"/><circle cx="756" cy="711" r="8"/><circle cx="761" cy="713" r="8"/><circle cx="528" cy="721" r="8"/><circle cx="533" cy="718" r="8"/><circle cx="593" cy="722" r="8"/><circle cx="599" cy="722" r="8"/><circle cx="604" cy="725" r="8"/><circle cx="655" cy="722" r="8"/><circle cx="665" cy="722" r="8"/><circle cx="672" cy="726" r="8"/><circle cx="676" cy="726" r="8"/><circle cx="762" cy="718" r="8"/><circle cx="525" cy="726" r="8"/><circle cx="591" cy="726" r="8"/><circle cx="601" cy="731" r="8"/><circle cx="604" cy="730" r="8"/><circle cx="660" cy="726" r="8"/><circle cx="665" cy="727" r="8"/><circle cx="673" cy="730" r="8"/><circle cx="677" cy="731" r="8"/><circle cx="729" cy="729" r="8"/><circle cx="560" cy="738" r="8"/><circle cx="603" cy="735" r="8"/><circle cx="608" cy="734" r="8"/><circle cx="648" cy="741" r="8"/><circle cx="676" cy="737" r="8"/><circle cx="677" cy="734" r="8"/><circle cx="745" cy="739" r="8"/><circle cx="644" cy="746" r="8"/><circle cx="668" cy="750" r="8"/><circle cx="667" cy="746" r="8"/><circle cx="821" cy="566" r="8"/><circle cx="820" cy="570" r="8"/><circle cx="871" cy="566" r="8"/><circle cx="881" cy="567" r="8"/><circle cx="884" cy="565" r="8"/><circle cx="975" cy="566" r="8"/><circle cx="1003" cy="569" r="8"/><circle cx="765" cy="582" r="8"/><circle cx="828" cy="573" r="8"/><circle cx="828" cy="582" r="8"/><circle cx="1003" cy="575" r="8"/><circle cx="764" cy="584" r="8"/><circle cx="835" cy="582" r="8"/><circle cx="837" cy="589" r="8"/><circle cx="842" cy="593" r="8"/><circle cx="845" cy="597" r="8"/><circle cx="961" cy="597" r="8"/><circle cx="842" cy="603" r="8"/><circle cx="845" cy="603" r="8"/><circle cx="955" cy="604" r="8"/><circle cx="958" cy="603" r="8"/><circle cx="977" cy="605" r="8"/><circle cx="784" cy="615" r="8"/><circle cx="788" cy="614" r="8"/><circle cx="843" cy="606" r="8"/><circle cx="846" cy="606" r="8"/><circle cx="955" cy="606" r="8"/><circle cx="956" cy="606" r="8"/><circle cx="976" cy="610" r="8"/><circle cx="785" cy="617" r="8"/><circle cx="792" cy="619" r="8"/><circle cx="976" cy="617" r="8"/><circle cx="951" cy="626" r="8"/><circle cx="972" cy="626" r="8"/><circle cx="768" cy="675" r="8"/><circle cx="775" cy="670" r="8"/><circle cx="785" cy="672" r="8"/><circle cx="793" cy="673" r="8"/><circle cx="800" cy="673" r="8"/><circle cx="923" cy="675" r="8"/><circle cx="927" cy="674" r="8"/><circle cx="1004" cy="669" r="8"/><circle cx="764" cy="683" r="8"/><circle cx="796" cy="678" r="8"/><circle cx="801" cy="678" r="8"/><circle cx="883" cy="686" r="8"/><circle cx="920" cy="683" r="8"/><circle cx="927" cy="681" r="8"/><circle cx="829" cy="690" r="8"/><circle cx="888" cy="690" r="8"/><circle cx="924" cy="688" r="8"/><circle cx="964" cy="689" r="8"/><circle cx="1003" cy="693" r="8"/><circle cx="765" cy="697" r="8"/><circle cx="837" cy="698" r="8"/><circle cx="841" cy="702" r="8"/><circle cx="843" cy="701" r="8"/><circle cx="884" cy="703" r="8"/><circle cx="888" cy="699" r="8"/><circle cx="896" cy="703" r="8"/><circle cx="903" cy="702" r="8"/><circle cx="909" cy="701" r="8"/><circle cx="968" cy="697" r="8"/><circle cx="1004" cy="699" r="8"/><circle cx="765" cy="705" r="8"/><circle cx="836" cy="703" r="8"/><circle cx="840" cy="701" r="8"/><circle cx="847" cy="706" r="8"/><circle cx="853" cy="710" r="8"/><circle cx="885" cy="705" r="8"/><circle cx="888" cy="703" r="8"/><circle cx="896" cy="702" r="8"/><circle cx="904" cy="702" r="8"/><circle cx="907" cy="702" r="8"/><circle cx="972" cy="701" r="8"/><circle cx="1003" cy="705" r="8"/><circle cx="764" cy="713" r="8"/><circle cx="852" cy="711" r="8"/><circle cx="856" cy="711" r="8"/><circle cx="864" cy="714" r="8"/><circle cx="873" cy="717" r="8"/><circle cx="877" cy="715" r="8"/><circle cx="1004" cy="714" r="8"/><circle cx="765" cy="718" r="8"/><circle cx="785" cy="725" r="8"/><circle cx="815" cy="725" r="8"/><circle cx="836" cy="721" r="8"/><circle cx="838" cy="725" r="8"/><circle cx="875" cy="721" r="8"/><circle cx="877" cy="723" r="8"/><circle cx="899" cy="721" r="8"/><circle cx="905" cy="721" r="8"/><circle cx="910" cy="722" r="8"/><circle cx="1003" cy="719" r="8"/><circle cx="783" cy="726" r="8"/><circle cx="815" cy="728" r="8"/><circle cx="843" cy="727" r="8"/><circle cx="845" cy="733" r="8"/><circle cx="876" cy="731" r="8"/><circle cx="876" cy="730" r="8"/><circle cx="851" cy="734" r="8"/><circle cx="856" cy="741" r="8"/><circle cx="864" cy="743" r="8"/><circle cx="873" cy="739" r="8"/><circle cx="878" cy="737" r="8"/><circle cx="952" cy="733" r="8"/><circle cx="835" cy="750" r="8"/><circle cx="835" cy="750" r="8"/><circle cx="860" cy="745" r="8"/><circle cx="864" cy="746" r="8"/><circle cx="873" cy="746" r="8"/><circle cx="879" cy="747" r="8"/><circle cx="885" cy="750" r="8"/><circle cx="919" cy="748" r="8"/><circle cx="868" cy="694" r="8"/><circle cx="1008" cy="570" r="8"/><circle cx="1016" cy="569" r="8"/><circle cx="1024" cy="567" r="8"/><circle cx="1032" cy="567" r="8"/><circle cx="1040" cy="571" r="8"/><circle cx="1049" cy="571" r="8"/><circle cx="1056" cy="570" r="8"/><circle cx="1064" cy="571" r="8"/><circle cx="1068" cy="570" r="8"/><circle cx="1108" cy="571" r="8"/><circle cx="1111" cy="570" r="8"/><circle cx="1120" cy="566" r="8"/><circle cx="1149" cy="569" r="8"/><circle cx="1153" cy="566" r="8"/><circle cx="1160" cy="567" r="8"/><circle cx="1168" cy="571" r="8"/><circle cx="1175" cy="571" r="8"/><circle cx="1181" cy="570" r="8"/><circle cx="1008" cy="579" r="8"/><circle cx="1012" cy="578" r="8"/><circle cx="1044" cy="578" r="8"/><circle cx="1049" cy="578" r="8"/><circle cx="1056" cy="578" r="8"/><circle cx="1064" cy="578" r="8"/><circle cx="1069" cy="578" r="8"/><circle cx="1107" cy="575" r="8"/><circle cx="1108" cy="575" r="8"/><circle cx="1172" cy="574" r="8"/><circle cx="1177" cy="577" r="8"/><circle cx="1180" cy="579" r="8"/><circle cx="1008" cy="586" r="8"/><circle cx="1017" cy="587" r="8"/><circle cx="1025" cy="588" r="8"/><circle cx="1032" cy="590" r="8"/><circle cx="1041" cy="585" r="8"/><circle cx="1047" cy="585" r="8"/><circle cx="1055" cy="586" r="8"/><circle cx="1072" cy="585" r="8"/><circle cx="1076" cy="591" r="8"/><circle cx="1179" cy="583" r="8"/><circle cx="1179" cy="582" r="8"/><circle cx="1009" cy="593" r="8"/><circle cx="1016" cy="593" r="8"/><circle cx="1025" cy="593" r="8"/><circle cx="1032" cy="595" r="8"/><circle cx="1039" cy="594" r="8"/><circle cx="1049" cy="591" r="8"/><circle cx="1056" cy="589" r="8"/><circle cx="1064" cy="594" r="8"/><circle cx="1073" cy="593" r="8"/><circle cx="1076" cy="594" r="8"/><circle cx="1121" cy="598" r="8"/><circle cx="1139" cy="594" r="8"/><circle cx="1140" cy="593" r="8"/><circle cx="1009" cy="603" r="8"/><circle cx="1015" cy="602" r="8"/><circle cx="1024" cy="602" r="8"/><circle cx="1033" cy="602" r="8"/><circle cx="1036" cy="603" r="8"/><circle cx="1068" cy="603" r="8"/><circle cx="1072" cy="601" r="8"/><circle cx="1080" cy="602" r="8"/><circle cx="1089" cy="606" r="8"/><circle cx="1138" cy="602" r="8"/><circle cx="1145" cy="602" r="8"/><circle cx="1168" cy="606" r="8"/><circle cx="1209" cy="606" r="8"/><circle cx="1016" cy="610" r="8"/><circle cx="1031" cy="609" r="8"/><circle cx="1066" cy="609" r="8"/><circle cx="1073" cy="611" r="8"/><circle cx="1087" cy="609" r="8"/><circle cx="1141" cy="610" r="8"/><circle cx="1139" cy="610" r="8"/><circle cx="1172" cy="610" r="8"/><circle cx="1205" cy="610" r="8"/><circle cx="1068" cy="618" r="8"/><circle cx="1072" cy="618" r="8"/><circle cx="1136" cy="617" r="8"/><circle cx="1143" cy="619" r="8"/><circle cx="1069" cy="625" r="8"/><circle cx="1072" cy="627" r="8"/><circle cx="1017" cy="666" r="8"/><circle cx="1023" cy="666" r="8"/><circle cx="1033" cy="665" r="8"/><circle cx="1041" cy="665" r="8"/><circle cx="1088" cy="666" r="8"/><circle cx="1153" cy="666" r="8"/><circle cx="1157" cy="663" r="8"/><circle cx="1016" cy="675" r="8"/><circle cx="1023" cy="673" r="8"/><circle cx="1031" cy="674" r="8"/><circle cx="1041" cy="674" r="8"/><circle cx="1048" cy="671" r="8"/><circle cx="1055" cy="673" r="8"/><circle cx="1064" cy="675" r="8"/><circle cx="1072" cy="674" r="8"/><circle cx="1089" cy="675" r="8"/><circle cx="1096" cy="674" r="8"/><circle cx="1105" cy="674" r="8"/><circle cx="1111" cy="671" r="8"/><circle cx="1120" cy="674" r="8"/><circle cx="1172" cy="678" r="8"/><circle cx="1172" cy="674" r="8"/><circle cx="1017" cy="682" r="8"/><circle cx="1033" cy="679" r="8"/><circle cx="1037" cy="679" r="8"/><circle cx="1059" cy="683" r="8"/><circle cx="1065" cy="682" r="8"/><circle cx="1071" cy="681" r="8"/><circle cx="1087" cy="681" r="8"/><circle cx="1095" cy="681" r="8"/><circle cx="1101" cy="680" r="8"/><circle cx="1124" cy="681" r="8"/><circle cx="1129" cy="682" r="8"/><circle cx="1135" cy="682" r="8"/><circle cx="1143" cy="681" r="8"/><circle cx="1147" cy="678" r="8"/><circle cx="1187" cy="681" r="8"/><circle cx="1008" cy="690" r="8"/><circle cx="1012" cy="690" r="8"/><circle cx="1051" cy="694" r="8"/><circle cx="1057" cy="686" r="8"/><circle cx="1063" cy="691" r="8"/><circle cx="1071" cy="690" r="8"/><circle cx="1080" cy="689" r="8"/><circle cx="1088" cy="691" r="8"/><circle cx="1093" cy="686" r="8"/><circle cx="1125" cy="691" r="8"/><circle cx="1129" cy="690" r="8"/><circle cx="1137" cy="689" r="8"/><circle cx="1008" cy="697" r="8"/><circle cx="1012" cy="697" r="8"/><circle cx="1048" cy="694" r="8"/><circle cx="1067" cy="695" r="8"/><circle cx="1071" cy="694" r="8"/><circle cx="1080" cy="699" r="8"/><circle cx="1086" cy="699" r="8"/><circle cx="1108" cy="702" r="8"/><circle cx="1111" cy="701" r="8"/><circle cx="1119" cy="699" r="8"/><circle cx="1129" cy="698" r="8"/><circle cx="1135" cy="694" r="8"/><circle cx="1143" cy="698" r="8"/><circle cx="1150" cy="701" r="8"/><circle cx="1007" cy="705" r="8"/><circle cx="1012" cy="707" r="8"/><circle cx="1085" cy="703" r="8"/><circle cx="1084" cy="703" r="8"/><circle cx="1108" cy="706" r="8"/><circle cx="1111" cy="705" r="8"/><circle cx="1119" cy="707" r="8"/><circle cx="1125" cy="707" r="8"/><circle cx="1148" cy="702" r="8"/><circle cx="1153" cy="707" r="8"/><circle cx="1155" cy="708" r="8"/><circle cx="1007" cy="714" r="8"/><circle cx="1012" cy="713" r="8"/><circle cx="1107" cy="710" r="8"/><circle cx="1113" cy="710" r="8"/><circle cx="1119" cy="711" r="8"/><circle cx="1123" cy="713" r="8"/><circle cx="1155" cy="711" r="8"/><circle cx="1157" cy="711" r="8"/><circle cx="1008" cy="717" r="8"/><circle cx="1017" cy="721" r="8"/><circle cx="1020" cy="725" r="8"/><circle cx="1083" cy="722" r="8"/><circle cx="1085" cy="726" r="8"/><circle cx="1129" cy="723" r="8"/><circle cx="1021" cy="731" r="8"/><circle cx="1019" cy="729" r="8"/><circle cx="1091" cy="730" r="8"/><circle cx="1094" cy="734" r="8"/><circle cx="1133" cy="729" r="8"/><circle cx="1135" cy="732" r="8"/><circle cx="1141" cy="733" r="8"/><circle cx="1165" cy="731" r="8"/><circle cx="1164" cy="734" r="8"/><circle cx="1019" cy="735" r="8"/><circle cx="1021" cy="739" r="8"/><circle cx="1074" cy="743" r="8"/><circle cx="1080" cy="739" r="8"/><circle cx="1088" cy="735" r="8"/><circle cx="1093" cy="735" r="8"/><circle cx="1132" cy="737" r="8"/><circle cx="1137" cy="739" r="8"/><circle cx="1140" cy="733" r="8"/><circle cx="1168" cy="734" r="8"/><circle cx="1025" cy="745" r="8"/><circle cx="1066" cy="749" r="8"/><circle cx="1069" cy="746" r="8"/><circle cx="1132" cy="747" r="8"/><circle cx="1133" cy="747" r="8"/><circle cx="1472" cy="653" r="8"/><circle cx="1473" cy="659" r="8"/><circle cx="1481" cy="658" r="8"/><circle cx="1262" cy="582" r="8"/><circle cx="1269" cy="589" r="8"/><circle cx="1275" cy="595" r="8"/><circle cx="1279" cy="599" r="8"/><circle cx="1321" cy="596" r="8"/><circle cx="1314" cy="600" r="8"/><circle cx="1308" cy="604" r="8"/><circle cx="1301" cy="609" r="8"/><circle cx="1300" cy="614" r="8"/><circle cx="1301" cy="619" r="8"/><circle cx="1337" cy="620" r="8"/><circle cx="1285" cy="633" r="8"/><circle cx="1298" cy="638" r="8"/><circle cx="1349" cy="641" r="8"/><circle cx="1424" cy="569" r="8"/><circle cx="1453" cy="570" r="8"/><circle cx="1435" cy="619" r="8"/><circle cx="1409" cy="628" r="8"/><circle cx="1477" cy="626" r="8"/><circle cx="1468" cy="578" r="8"/><circle cx="1288" cy="670" r="8"/><circle cx="1253" cy="670" r="8"/><circle cx="1291" cy="687" r="8"/><circle cx="1287" cy="690" r="8"/><circle cx="1283" cy="695" r="8"/><circle cx="1365" cy="690" r="8"/><circle cx="1335" cy="663" r="8"/><circle cx="1413" cy="679" r="8"/><circle cx="1438" cy="674" r="8"/><circle cx="1445" cy="678" r="8"/><circle cx="1450" cy="672" r="8"/><circle cx="1438" cy="684" r="8"/><circle cx="1442" cy="680" r="8"/><circle cx="1454" cy="667" r="8"/><circle cx="1446" cy="670" r="8"/><circle cx="1466" cy="700" r="8"/><circle cx="1477" cy="657" r="8"/><circle cx="1480" cy="665" r="8"/><circle cx="1481" cy="674" r="8"/><circle cx="1479" cy="683" r="8"/><circle cx="1477" cy="689" r="8"/><circle cx="1475" cy="670" r="8"/><circle cx="1476" cy="680" r="8"/><circle cx="1443" cy="714" r="8"/><circle cx="1450" cy="728" r="8"/><circle cx="1404" cy="741" r="8"/><circle cx="1444" cy="745" r="8"/><circle cx="1438" cy="750" r="8"/><circle cx="1483" cy="709" r="8"/><circle cx="1496" cy="576" r="8"/><circle cx="1490" cy="582" r="8"/><circle cx="1510" cy="607" r="8"/><circle cx="1518" cy="615" r="8"/><circle cx="1522" cy="618" r="8"/><circle cx="1501" cy="620" r="8"/><circle cx="1507" cy="618" r="8"/><circle cx="1545" cy="671" r="8"/><circle cx="1484" cy="665" r="8"/><circle cx="1485" cy="678" r="8"/><circle cx="1485" cy="687" r="8"/><circle cx="1489" cy="707" r="8"/><circle cx="1494" cy="714" r="8"/><circle cx="1500" cy="722" r="8"/><circle cx="1503" cy="728" r="8"/><circle cx="1498" cy="735" r="8"/><circle cx="1497" cy="742" r="8"/><circle cx="1498" cy="749" r="8"/><circle cx="464" cy="758" r="8"/><circle cx="451" cy="766" r="8"/><circle cx="458" cy="772" r="8"/><circle cx="459" cy="782" r="8"/><circle cx="480" cy="802" r="8"/><circle cx="502" cy="830" r="8"/><circle cx="521" cy="846" r="8"/><circle cx="503" cy="750" r="8"/><circle cx="560" cy="760" r="8"/><circle cx="569" cy="768" r="8"/><circle cx="578" cy="766" r="8"/><circle cx="586" cy="771" r="8"/><circle cx="594" cy="764" r="8"/><circle cx="600" cy="767" r="8"/><circle cx="610" cy="758" r="8"/><circle cx="615" cy="763" r="8"/><circle cx="613" cy="776" r="8"/><circle cx="615" cy="780" r="8"/><circle cx="625" cy="773" r="8"/><circle cx="636" cy="763" r="8"/><circle cx="668" cy="754" r="8"/><circle cx="655" cy="767" r="8"/><circle cx="655" cy="775" r="8"/><circle cx="654" cy="782" r="8"/><circle cx="720" cy="762" r="8"/><circle cx="626" cy="793" r="8"/><circle cx="637" cy="803" r="8"/><circle cx="638" cy="810" r="8"/><circle cx="640" cy="815" r="8"/><circle cx="561" cy="815" r="8"/><circle cx="583" cy="819" r="8"/><circle cx="582" cy="824" r="8"/><circle cx="612" cy="821" r="8"/><circle cx="597" cy="839" r="8"/><circle cx="524" cy="845" r="8"/><circle cx="607" cy="854" r="8"/><circle cx="628" cy="850" r="8"/><circle cx="639" cy="849" r="8"/><circle cx="668" cy="839" r="8"/><circle cx="764" cy="823" r="8"/><circle cx="757" cy="854" r="8"/><circle cx="650" cy="750" r="8"/><circle cx="800" cy="754" r="8"/><circle cx="805" cy="762" r="8"/><circle cx="812" cy="768" r="8"/><circle cx="817" cy="775" r="8"/><circle cx="824" cy="781" r="8"/><circle cx="822" cy="788" r="8"/><circle cx="820" cy="794" r="8"/><circle cx="813" cy="798" r="8"/><circle cx="804" cy="801" r="8"/><circle cx="816" cy="807" r="8"/><circle cx="821" cy="753" r="8"/><circle cx="829" cy="756" r="8"/><circle cx="837" cy="754" r="8"/><circle cx="844" cy="755" r="8"/><circle cx="853" cy="754" r="8"/><circle cx="852" cy="764" r="8"/><circle cx="844" cy="760" r="8"/><circle cx="786" cy="814" r="8"/><circle cx="772" cy="823" r="8"/><circle cx="780" cy="838" r="8"/><circle cx="808" cy="828" r="8"/><circle cx="815" cy="834" r="8"/><circle cx="822" cy="838" r="8"/><circle cx="829" cy="841" r="8"/><circle cx="843" cy="838" r="8"/><circle cx="852" cy="842" r="8"/><circle cx="805" cy="850" r="8"/><circle cx="873" cy="843" r="8"/><circle cx="868" cy="851" r="8"/><circle cx="881" cy="852" r="8"/><circle cx="896" cy="846" r="8"/><circle cx="896" cy="819" r="8"/><circle cx="903" cy="768" r="8"/><circle cx="907" cy="776" r="8"/><circle cx="913" cy="780" r="8"/><circle cx="894" cy="788" r="8"/><circle cx="892" cy="794" r="8"/><circle cx="892" cy="799" r="8"/><circle cx="927" cy="789" r="8"/><circle cx="923" cy="794" r="8"/><circle cx="926" cy="798" r="8"/><circle cx="944" cy="758" r="8"/><circle cx="951" cy="765" r="8"/><circle cx="968" cy="777" r="8"/><circle cx="943" cy="814" r="8"/><circle cx="953" cy="830" r="8"/><circle cx="962" cy="828" r="8"/><circle cx="970" cy="826" r="8"/><circle cx="980" cy="810" r="8"/><circle cx="990" cy="797" r="8"/><circle cx="1001" cy="803" r="8"/><circle cx="883" cy="750" r="8"/><circle cx="921" cy="750" r="8"/><circle cx="794" cy="854" r="8"/><circle cx="1022" cy="763" r="8"/><circle cx="1020" cy="767" r="8"/><circle cx="1066" cy="753" r="8"/><circle cx="1061" cy="772" r="8"/><circle cx="1069" cy="772" r="8"/><circle cx="1004" cy="781" r="8"/><circle cx="1004" cy="803" r="8"/><circle cx="1022" cy="816" r="8"/><circle cx="1121" cy="755" r="8"/><circle cx="1125" cy="762" r="8"/><circle cx="1116" cy="768" r="8"/><circle cx="1123" cy="776" r="8"/><circle cx="1125" cy="784" r="8"/><circle cx="1128" cy="790" r="8"/><circle cx="1145" cy="791" r="8"/><circle cx="1154" cy="809" r="8"/><circle cx="1142" cy="826" r="8"/><circle cx="1158" cy="759" r="8"/><circle cx="1179" cy="758" r="8"/><circle cx="1188" cy="764" r="8"/><circle cx="1196" cy="766" r="8"/><circle cx="1198" cy="774" r="8"/><circle cx="1158" cy="854" r="8"/><circle cx="1047" cy="854" r="8"/><circle cx="1080" cy="854" r="8"/><circle cx="1134" cy="750" r="8"/><circle cx="1078" cy="750" r="8"/><circle cx="1417" cy="758" r="8"/><circle cx="1441" cy="753" r="8"/><circle cx="1440" cy="756" r="8"/><circle cx="1451" cy="801" r="8"/><circle cx="1460" cy="810" r="8"/><circle cx="1403" cy="746" r="8"/><circle cx="1498" cy="753" r="8"/><circle cx="1500" cy="762" r="8"/><circle cx="1498" cy="768" r="8"/><circle cx="1496" cy="775" r="8"/><circle cx="1492" cy="780" r="8"/><circle cx="706" cy="540" r="8"/><circle cx="716" cy="547" r="8"/><circle cx="708" cy="553" r="8"/><circle cx="724" cy="555" r="8"/><circle cx="701" cy="545" r="8"/><circle cx="732" cy="560" r="8"/><circle cx="688" cy="566" r="8"/><circle cx="1030" cy="545" r="8"/><circle cx="1043" cy="553" r="8"/><circle cx="1059" cy="545" r="8"/><circle cx="1069" cy="553" r="8"/><circle cx="1048" cy="534" r="8"/>
</g>
<g fill="#6CF76C">
<circle cx="957" cy="564" r="8"/><circle cx="1099" cy="531" r="8"/><circle cx="1104" cy="539" r="8"/><circle cx="401" cy="606" r="8"/><circle cx="400" cy="607" r="8"/><circle cx="500" cy="614" r="8"/><circle cx="513" cy="613" r="8"/><circle cx="520" cy="614" r="8"/><circle cx="368" cy="623" r="8"/><circle cx="437" cy="623" r="8"/><circle cx="436" cy="623" r="8"/><circle cx="499" cy="618" r="8"/><circle cx="504" cy="618" r="8"/><circle cx="511" cy="618" r="8"/><circle cx="364" cy="627" r="8"/><circle cx="387" cy="631" r="8"/><circle cx="392" cy="630" r="8"/><circle cx="399" cy="628" r="8"/><circle cx="408" cy="629" r="8"/><circle cx="424" cy="630" r="8"/><circle cx="431" cy="627" r="8"/><circle cx="439" cy="627" r="8"/><circle cx="444" cy="629" r="8"/><circle cx="491" cy="629" r="8"/><circle cx="495" cy="625" r="8"/><circle cx="340" cy="637" r="8"/><circle cx="344" cy="635" r="8"/><circle cx="455" cy="639" r="8"/><circle cx="465" cy="638" r="8"/><circle cx="471" cy="639" r="8"/><circle cx="480" cy="637" r="8"/><circle cx="487" cy="634" r="8"/><circle cx="496" cy="634" r="8"/><circle cx="298" cy="641" r="8"/><circle cx="303" cy="645" r="8"/><circle cx="308" cy="646" r="8"/><circle cx="360" cy="661" r="8"/><circle cx="367" cy="662" r="8"/><circle cx="420" cy="669" r="8"/><circle cx="445" cy="670" r="8"/><circle cx="463" cy="673" r="8"/><circle cx="472" cy="671" r="8"/><circle cx="460" cy="681" r="8"/><circle cx="461" cy="682" r="8"/><circle cx="512" cy="683" r="8"/><circle cx="521" cy="682" r="8"/><circle cx="460" cy="686" r="8"/><circle cx="517" cy="691" r="8"/><circle cx="520" cy="689" r="8"/><circle cx="433" cy="697" r="8"/><circle cx="515" cy="694" r="8"/><circle cx="520" cy="695" r="8"/><circle cx="720" cy="577" r="8"/><circle cx="744" cy="579" r="8"/><circle cx="762" cy="590" r="8"/><circle cx="697" cy="593" r="8"/><circle cx="729" cy="594" r="8"/><circle cx="764" cy="595" r="8"/><circle cx="755" cy="606" r="8"/><circle cx="760" cy="602" r="8"/><circle cx="588" cy="613" r="8"/><circle cx="589" cy="613" r="8"/><circle cx="707" cy="614" r="8"/><circle cx="755" cy="609" r="8"/><circle cx="761" cy="610" r="8"/><circle cx="548" cy="622" r="8"/><circle cx="553" cy="622" r="8"/><circle cx="560" cy="621" r="8"/><circle cx="564" cy="622" r="8"/><circle cx="636" cy="622" r="8"/><circle cx="636" cy="621" r="8"/><circle cx="701" cy="622" r="8"/><circle cx="739" cy="622" r="8"/><circle cx="536" cy="630" r="8"/><circle cx="543" cy="626" r="8"/><circle cx="552" cy="627" r="8"/><circle cx="561" cy="626" r="8"/><circle cx="616" cy="630" r="8"/><circle cx="623" cy="629" r="8"/><circle cx="644" cy="629" r="8"/><circle cx="664" cy="631" r="8"/><circle cx="735" cy="626" r="8"/><circle cx="544" cy="635" r="8"/><circle cx="551" cy="635" r="8"/><circle cx="663" cy="664" r="8"/><circle cx="700" cy="666" r="8"/><circle cx="704" cy="667" r="8"/><circle cx="712" cy="666" r="8"/><circle cx="759" cy="667" r="8"/><circle cx="585" cy="673" r="8"/><circle cx="589" cy="671" r="8"/><circle cx="620" cy="674" r="8"/><circle cx="619" cy="675" r="8"/><circle cx="699" cy="669" r="8"/><circle cx="705" cy="670" r="8"/><circle cx="711" cy="671" r="8"/><circle cx="721" cy="670" r="8"/><circle cx="764" cy="670" r="8"/><circle cx="529" cy="682" r="8"/><circle cx="580" cy="683" r="8"/><circle cx="619" cy="679" r="8"/><circle cx="624" cy="680" r="8"/><circle cx="629" cy="682" r="8"/><circle cx="653" cy="687" r="8"/><circle cx="652" cy="684" r="8"/><circle cx="524" cy="689" r="8"/><circle cx="579" cy="688" r="8"/><circle cx="651" cy="687" r="8"/><circle cx="652" cy="686" r="8"/><circle cx="525" cy="693" r="8"/><circle cx="684" cy="693" r="8"/><circle cx="685" cy="698" r="8"/><circle cx="543" cy="702" r="8"/><circle cx="591" cy="711" r="8"/><circle cx="697" cy="707" r="8"/><circle cx="583" cy="717" r="8"/><circle cx="588" cy="712" r="8"/><circle cx="583" cy="722" r="8"/><circle cx="584" cy="727" r="8"/><circle cx="617" cy="739" r="8"/><circle cx="640" cy="749" r="8"/><circle cx="961" cy="566" r="8"/><circle cx="991" cy="597" r="8"/><circle cx="763" cy="607" r="8"/><circle cx="996" cy="603" r="8"/><circle cx="1000" cy="607" r="8"/><circle cx="767" cy="610" r="8"/><circle cx="773" cy="613" r="8"/><circle cx="823" cy="613" r="8"/><circle cx="888" cy="610" r="8"/><circle cx="999" cy="609" r="8"/><circle cx="800" cy="623" r="8"/><circle cx="823" cy="619" r="8"/><circle cx="816" cy="630" r="8"/><circle cx="823" cy="626" r="8"/><circle cx="848" cy="629" r="8"/><circle cx="855" cy="630" r="8"/><circle cx="968" cy="629" r="8"/><circle cx="815" cy="634" r="8"/><circle cx="824" cy="633" r="8"/><circle cx="883" cy="637" r="8"/><circle cx="911" cy="638" r="8"/><circle cx="972" cy="633" r="8"/><circle cx="973" cy="637" r="8"/><circle cx="783" cy="662" r="8"/><circle cx="793" cy="663" r="8"/><circle cx="799" cy="663" r="8"/><circle cx="839" cy="662" r="8"/><circle cx="848" cy="661" r="8"/><circle cx="889" cy="663" r="8"/><circle cx="985" cy="667" r="8"/><circle cx="828" cy="674" r="8"/><circle cx="980" cy="675" r="8"/><circle cx="813" cy="679" r="8"/><circle cx="815" cy="678" r="8"/><circle cx="823" cy="683" r="8"/><circle cx="829" cy="677" r="8"/><circle cx="876" cy="679" r="8"/><circle cx="876" cy="678" r="8"/><circle cx="940" cy="678" r="8"/><circle cx="765" cy="690" r="8"/><circle cx="823" cy="687" r="8"/><circle cx="785" cy="707" r="8"/><circle cx="982" cy="705" r="8"/><circle cx="940" cy="719" r="8"/><circle cx="940" cy="717" r="8"/><circle cx="940" cy="718" r="8"/><circle cx="945" cy="722" r="8"/><circle cx="948" cy="727" r="8"/><circle cx="947" cy="727" r="8"/><circle cx="949" cy="726" r="8"/><circle cx="968" cy="727" r="8"/><circle cx="991" cy="731" r="8"/><circle cx="1127" cy="569" r="8"/><circle cx="1132" cy="574" r="8"/><circle cx="1097" cy="586" r="8"/><circle cx="1099" cy="605" r="8"/><circle cx="1103" cy="606" r="8"/><circle cx="1111" cy="605" r="8"/><circle cx="1005" cy="613" r="8"/><circle cx="1100" cy="610" r="8"/><circle cx="1104" cy="610" r="8"/><circle cx="1112" cy="610" r="8"/><circle cx="1032" cy="620" r="8"/><circle cx="1041" cy="617" r="8"/><circle cx="1045" cy="621" r="8"/><circle cx="1089" cy="621" r="8"/><circle cx="1097" cy="617" r="8"/><circle cx="1103" cy="617" r="8"/><circle cx="1113" cy="619" r="8"/><circle cx="1159" cy="621" r="8"/><circle cx="1193" cy="621" r="8"/><circle cx="1235" cy="622" r="8"/><circle cx="1239" cy="622" r="8"/><circle cx="1084" cy="626" r="8"/><circle cx="1151" cy="627" r="8"/><circle cx="1224" cy="629" r="8"/><circle cx="1071" cy="662" r="8"/><circle cx="1078" cy="665" r="8"/><circle cx="1099" cy="662" r="8"/><circle cx="1104" cy="662" r="8"/><circle cx="1196" cy="662" r="8"/><circle cx="1200" cy="663" r="8"/><circle cx="1208" cy="662" r="8"/><circle cx="1216" cy="665" r="8"/><circle cx="1221" cy="665" r="8"/><circle cx="1132" cy="671" r="8"/><circle cx="1135" cy="670" r="8"/><circle cx="1143" cy="670" r="8"/><circle cx="1148" cy="675" r="8"/><circle cx="1219" cy="671" r="8"/><circle cx="1221" cy="671" r="8"/><circle cx="1025" cy="683" r="8"/><circle cx="1168" cy="687" r="8"/><circle cx="1185" cy="686" r="8"/><circle cx="1319" cy="634" r="8"/><circle cx="1323" cy="633" r="8"/><circle cx="1459" cy="634" r="8"/><circle cx="1343" cy="645" r="8"/><circle cx="1256" cy="657" r="8"/><circle cx="1263" cy="658" r="8"/><circle cx="1280" cy="658" r="8"/><circle cx="1477" cy="578" r="8"/><circle cx="1483" cy="593" r="8"/><circle cx="1472" cy="608" r="8"/><circle cx="1324" cy="636" r="8"/><circle cx="1367" cy="641" r="8"/><circle cx="1352" cy="642" r="8"/><circle cx="1453" cy="633" r="8"/><circle cx="1252" cy="665" r="8"/><circle cx="1257" cy="659" r="8"/><circle cx="1274" cy="667" r="8"/><circle cx="1302" cy="668" r="8"/><circle cx="1384" cy="675" r="8"/><circle cx="1423" cy="667" r="8"/><circle cx="1462" cy="670" r="8"/><circle cx="1413" cy="633" r="8"/><circle cx="1483" cy="636" r="8"/><circle cx="1418" cy="665" r="8"/><circle cx="1573" cy="583" r="8"/><circle cx="1487" cy="593" r="8"/><circle cx="1522" cy="623" r="8"/><circle cx="1528" cy="633" r="8"/><circle cx="1488" cy="639" r="8"/><circle cx="1513" cy="649" r="8"/><circle cx="1554" cy="649" r="8"/><circle cx="1557" cy="662" r="8"/><circle cx="1559" cy="677" r="8"/><circle cx="1567" cy="642" r="8"/><circle cx="1589" cy="655" r="8"/><circle cx="1612" cy="654" r="8"/><circle cx="1618" cy="650" r="8"/><circle cx="1484" cy="576" r="8"/><circle cx="1488" cy="654" r="8"/><circle cx="1545" cy="662" r="8"/><circle cx="554" cy="780" r="8"/><circle cx="641" cy="753" r="8"/><circle cx="672" cy="835" r="8"/><circle cx="990" cy="777" r="8"/><circle cx="1001" cy="763" r="8"/>
</g>
<g fill="#F76C6C">
<circle cx="999" cy="550" r="8"/><circle cx="862" cy="566" r="8"/><circle cx="1118" cy="561" r="8"/><circle cx="1524" cy="519" r="8"/><circle cx="503" cy="604" r="8"/><circle cx="504" cy="607" r="8"/><circle cx="353" cy="621" r="8"/><circle cx="524" cy="620" r="8"/><circle cx="347" cy="625" r="8"/><circle cx="351" cy="627" r="8"/><circle cx="356" cy="629" r="8"/><circle cx="415" cy="631" r="8"/><circle cx="507" cy="629" r="8"/><circle cx="513" cy="629" r="8"/><circle cx="520" cy="625" r="8"/><circle cx="355" cy="634" r="8"/><circle cx="360" cy="635" r="8"/><circle cx="368" cy="638" r="8"/><circle cx="377" cy="638" r="8"/><circle cx="384" cy="637" r="8"/><circle cx="391" cy="637" r="8"/><circle cx="399" cy="638" r="8"/><circle cx="407" cy="637" r="8"/><circle cx="415" cy="635" r="8"/><circle cx="425" cy="638" r="8"/><circle cx="431" cy="637" r="8"/><circle cx="439" cy="637" r="8"/><circle cx="444" cy="637" r="8"/><circle cx="507" cy="634" r="8"/><circle cx="511" cy="633" r="8"/><circle cx="519" cy="634" r="8"/><circle cx="316" cy="646" r="8"/><circle cx="321" cy="646" r="8"/><circle cx="329" cy="647" r="8"/><circle cx="336" cy="645" r="8"/><circle cx="345" cy="645" r="8"/><circle cx="353" cy="642" r="8"/><circle cx="359" cy="643" r="8"/><circle cx="369" cy="642" r="8"/><circle cx="377" cy="643" r="8"/><circle cx="383" cy="642" r="8"/><circle cx="392" cy="643" r="8"/><circle cx="401" cy="643" r="8"/><circle cx="408" cy="643" r="8"/><circle cx="416" cy="643" r="8"/><circle cx="423" cy="641" r="8"/><circle cx="431" cy="642" r="8"/><circle cx="439" cy="643" r="8"/><circle cx="448" cy="642" r="8"/><circle cx="456" cy="646" r="8"/><circle cx="464" cy="644" r="8"/><circle cx="473" cy="646" r="8"/><circle cx="480" cy="646" r="8"/><circle cx="488" cy="644" r="8"/><circle cx="497" cy="645" r="8"/><circle cx="503" cy="641" r="8"/><circle cx="513" cy="641" r="8"/><circle cx="521" cy="643" r="8"/><circle cx="316" cy="650" r="8"/><circle cx="321" cy="650" r="8"/><circle cx="328" cy="649" r="8"/><circle cx="335" cy="649" r="8"/><circle cx="345" cy="649" r="8"/><circle cx="352" cy="649" r="8"/><circle cx="359" cy="649" r="8"/><circle cx="368" cy="650" r="8"/><circle cx="376" cy="649" r="8"/><circle cx="384" cy="650" r="8"/><circle cx="392" cy="649" r="8"/><circle cx="401" cy="649" r="8"/><circle cx="409" cy="651" r="8"/><circle cx="415" cy="650" r="8"/><circle cx="425" cy="651" r="8"/><circle cx="432" cy="649" r="8"/><circle cx="439" cy="651" r="8"/><circle cx="447" cy="650" r="8"/><circle cx="455" cy="650" r="8"/><circle cx="465" cy="649" r="8"/><circle cx="473" cy="650" r="8"/><circle cx="481" cy="651" r="8"/><circle cx="487" cy="651" r="8"/><circle cx="496" cy="649" r="8"/><circle cx="503" cy="650" r="8"/><circle cx="512" cy="649" r="8"/><circle cx="519" cy="650" r="8"/><circle cx="315" cy="655" r="8"/><circle cx="319" cy="659" r="8"/><circle cx="329" cy="657" r="8"/><circle cx="337" cy="659" r="8"/><circle cx="345" cy="657" r="8"/><circle cx="352" cy="658" r="8"/><circle cx="361" cy="655" r="8"/><circle cx="368" cy="654" r="8"/><circle cx="375" cy="657" r="8"/><circle cx="383" cy="659" r="8"/><circle cx="391" cy="659" r="8"/><circle cx="399" cy="657" r="8"/><circle cx="408" cy="657" r="8"/><circle cx="416" cy="659" r="8"/><circle cx="425" cy="659" r="8"/><circle cx="432" cy="659" r="8"/><circle cx="441" cy="658" r="8"/><circle cx="449" cy="657" r="8"/><circle cx="457" cy="658" r="8"/><circle cx="465" cy="658" r="8"/><circle cx="471" cy="657" r="8"/><circle cx="481" cy="657" r="8"/><circle cx="488" cy="658" r="8"/><circle cx="495" cy="659" r="8"/><circle cx="505" cy="657" r="8"/><circle cx="512" cy="657" r="8"/><circle cx="520" cy="658" r="8"/><circle cx="323" cy="663" r="8"/><circle cx="328" cy="665" r="8"/><circle cx="337" cy="667" r="8"/><circle cx="344" cy="665" r="8"/><circle cx="348" cy="665" r="8"/><circle cx="380" cy="667" r="8"/><circle cx="385" cy="666" r="8"/><circle cx="392" cy="666" r="8"/><circle cx="400" cy="662" r="8"/><circle cx="407" cy="662" r="8"/><circle cx="417" cy="661" r="8"/><circle cx="424" cy="666" r="8"/><circle cx="433" cy="662" r="8"/><circle cx="439" cy="662" r="8"/><circle cx="448" cy="666" r="8"/><circle cx="457" cy="667" r="8"/><circle cx="465" cy="661" r="8"/><circle cx="471" cy="663" r="8"/><circle cx="481" cy="666" r="8"/><circle cx="488" cy="665" r="8"/><circle cx="496" cy="667" r="8"/><circle cx="505" cy="667" r="8"/><circle cx="513" cy="665" r="8"/><circle cx="519" cy="665" r="8"/><circle cx="333" cy="671" r="8"/><circle cx="336" cy="671" r="8"/><circle cx="344" cy="671" r="8"/><circle cx="347" cy="671" r="8"/><circle cx="379" cy="673" r="8"/><circle cx="384" cy="675" r="8"/><circle cx="387" cy="669" r="8"/><circle cx="423" cy="670" r="8"/><circle cx="451" cy="670" r="8"/><circle cx="454" cy="671" r="8"/><circle cx="483" cy="673" r="8"/><circle cx="488" cy="675" r="8"/><circle cx="495" cy="669" r="8"/><circle cx="504" cy="674" r="8"/><circle cx="512" cy="670" r="8"/><circle cx="521" cy="671" r="8"/><circle cx="379" cy="678" r="8"/><circle cx="381" cy="680" r="8"/><circle cx="483" cy="681" r="8"/><circle cx="484" cy="682" r="8"/><circle cx="505" cy="678" r="8"/><circle cx="407" cy="692" r="8"/><circle cx="455" cy="691" r="8"/><circle cx="485" cy="690" r="8"/><circle cx="486" cy="689" r="8"/><circle cx="409" cy="699" r="8"/><circle cx="483" cy="693" r="8"/><circle cx="483" cy="694" r="8"/><circle cx="404" cy="705" r="8"/><circle cx="408" cy="706" r="8"/><circle cx="413" cy="705" r="8"/><circle cx="409" cy="710" r="8"/><circle cx="736" cy="602" r="8"/><circle cx="689" cy="610" r="8"/><circle cx="713" cy="614" r="8"/><circle cx="524" cy="623" r="8"/><circle cx="588" cy="622" r="8"/><circle cx="588" cy="621" r="8"/><circle cx="707" cy="623" r="8"/><circle cx="711" cy="618" r="8"/><circle cx="718" cy="622" r="8"/><circle cx="747" cy="621" r="8"/><circle cx="752" cy="620" r="8"/><circle cx="760" cy="622" r="8"/><circle cx="525" cy="626" r="8"/><circle cx="572" cy="630" r="8"/><circle cx="576" cy="629" r="8"/><circle cx="585" cy="627" r="8"/><circle cx="593" cy="627" r="8"/><circle cx="601" cy="630" r="8"/><circle cx="605" cy="629" r="8"/><circle cx="636" cy="630" r="8"/><circle cx="637" cy="629" r="8"/><circle cx="691" cy="630" r="8"/><circle cx="697" cy="629" r="8"/><circle cx="704" cy="627" r="8"/><circle cx="711" cy="626" r="8"/><circle cx="719" cy="627" r="8"/><circle cx="726" cy="630" r="8"/><circle cx="748" cy="627" r="8"/><circle cx="752" cy="626" r="8"/><circle cx="761" cy="626" r="8"/><circle cx="528" cy="635" r="8"/><circle cx="532" cy="638" r="8"/><circle cx="563" cy="636" r="8"/><circle cx="567" cy="634" r="8"/><circle cx="575" cy="634" r="8"/><circle cx="584" cy="635" r="8"/><circle cx="592" cy="633" r="8"/><circle cx="599" cy="635" r="8"/><circle cx="609" cy="634" r="8"/><circle cx="615" cy="638" r="8"/><circle cx="624" cy="637" r="8"/><circle cx="631" cy="635" r="8"/><circle cx="641" cy="634" r="8"/><circle cx="648" cy="638" r="8"/><circle cx="655" cy="639" r="8"/><circle cx="660" cy="638" r="8"/><circle cx="692" cy="635" r="8"/><circle cx="696" cy="633" r="8"/><circle cx="704" cy="633" r="8"/><circle cx="713" cy="634" r="8"/><circle cx="721" cy="633" r="8"/><circle cx="728" cy="633" r="8"/><circle cx="736" cy="637" r="8"/><circle cx="743" cy="635" r="8"/><circle cx="751" cy="633" r="8"/><circle cx="759" cy="634" r="8"/><circle cx="528" cy="642" r="8"/><circle cx="536" cy="642" r="8"/><circle cx="545" cy="647" r="8"/><circle cx="551" cy="646" r="8"/><circle cx="561" cy="643" r="8"/><circle cx="567" cy="643" r="8"/><circle cx="576" cy="641" r="8"/><circle cx="583" cy="643" r="8"/><circle cx="592" cy="641" r="8"/><circle cx="599" cy="641" r="8"/><circle cx="607" cy="643" r="8"/><circle cx="616" cy="641" r="8"/><circle cx="625" cy="643" r="8"/><circle cx="631" cy="643" r="8"/><circle cx="640" cy="643" r="8"/><circle cx="648" cy="643" r="8"/><circle cx="657" cy="643" r="8"/><circle cx="663" cy="643" r="8"/><circle cx="672" cy="646" r="8"/><circle cx="680" cy="647" r="8"/><circle cx="688" cy="641" r="8"/><circle cx="695" cy="641" r="8"/><circle cx="704" cy="641" r="8"/><circle cx="712" cy="641" r="8"/><circle cx="720" cy="642" r="8"/><circle cx="728" cy="643" r="8"/><circle cx="735" cy="643" r="8"/><circle cx="744" cy="642" r="8"/><circle cx="752" cy="643" r="8"/><circle cx="760" cy="642" r="8"/><circle cx="529" cy="649" r="8"/><circle cx="536" cy="650" r="8"/><circle cx="543" cy="650" r="8"/><circle cx="552" cy="651" r="8"/><circle cx="560" cy="651" r="8"/><circle cx="568" cy="650" r="8"/><circle cx="577" cy="649" r="8"/><circle cx="585" cy="650" r="8"/><circle cx="592" cy="651" r="8"/><circle cx="600" cy="650" r="8"/><circle cx="608" cy="651" r="8"/><circle cx="615" cy="650" r="8"/><circle cx="624" cy="650" r="8"/><circle cx="633" cy="649" r="8"/><circle cx="641" cy="650" r="8"/><circle cx="648" cy="649" r="8"/><circle cx="656" cy="651" r="8"/><circle cx="664" cy="651" r="8"/><circle cx="672" cy="650" r="8"/><circle cx="679" cy="650" r="8"/><circle cx="688" cy="651" r="8"/><circle cx="695" cy="651" r="8"/><circle cx="705" cy="650" r="8"/><circle cx="711" cy="649" r="8"/><circle cx="719" cy="649" r="8"/><circle cx="729" cy="650" r="8"/><circle cx="736" cy="651" r="8"/><circle cx="745" cy="650" r="8"/><circle cx="752" cy="650" r="8"/><circle cx="761" cy="650" r="8"/><circle cx="528" cy="657" r="8"/><circle cx="536" cy="658" r="8"/><circle cx="545" cy="657" r="8"/><circle cx="551" cy="657" r="8"/><circle cx="561" cy="659" r="8"/><circle cx="568" cy="658" r="8"/><circle cx="577" cy="659" r="8"/><circle cx="584" cy="657" r="8"/><circle cx="591" cy="658" r="8"/><circle cx="600" cy="658" r="8"/><circle cx="608" cy="659" r="8"/><circle cx="615" cy="658" r="8"/><circle cx="623" cy="657" r="8"/><circle cx="633" cy="658" r="8"/><circle cx="641" cy="658" r="8"/><circle cx="647" cy="658" r="8"/><circle cx="656" cy="659" r="8"/><circle cx="665" cy="654" r="8"/><circle cx="672" cy="657" r="8"/><circle cx="680" cy="657" r="8"/><circle cx="687" cy="653" r="8"/><circle cx="695" cy="655" r="8"/><circle cx="703" cy="656" r="8"/><circle cx="711" cy="655" r="8"/><circle cx="719" cy="657" r="8"/><circle cx="729" cy="657" r="8"/><circle cx="737" cy="657" r="8"/><circle cx="743" cy="659" r="8"/><circle cx="753" cy="659" r="8"/><circle cx="761" cy="653" r="8"/><circle cx="528" cy="667" r="8"/><circle cx="536" cy="667" r="8"/><circle cx="543" cy="667" r="8"/><circle cx="553" cy="665" r="8"/><circle cx="559" cy="666" r="8"/><circle cx="569" cy="665" r="8"/><circle cx="576" cy="667" r="8"/><circle cx="583" cy="663" r="8"/><circle cx="592" cy="661" r="8"/><circle cx="600" cy="663" r="8"/><circle cx="608" cy="663" r="8"/><circle cx="615" cy="663" r="8"/><circle cx="624" cy="663" r="8"/><circle cx="632" cy="662" r="8"/><circle cx="640" cy="663" r="8"/><circle cx="649" cy="663" r="8"/><circle cx="653" cy="662" r="8"/><circle cx="676" cy="667" r="8"/><circle cx="676" cy="666" r="8"/><circle cx="724" cy="663" r="8"/><circle cx="729" cy="665" r="8"/><circle cx="735" cy="665" r="8"/><circle cx="744" cy="663" r="8"/><circle cx="749" cy="663" r="8"/><circle cx="529" cy="671" r="8"/><circle cx="536" cy="673" r="8"/><circle cx="545" cy="675" r="8"/><circle cx="552" cy="675" r="8"/><circle cx="560" cy="673" r="8"/><circle cx="568" cy="675" r="8"/><circle cx="572" cy="675" r="8"/><circle cx="675" cy="675" r="8"/><circle cx="676" cy="674" r="8"/><circle cx="732" cy="674" r="8"/><circle cx="732" cy="673" r="8"/><circle cx="541" cy="679" r="8"/><circle cx="545" cy="683" r="8"/><circle cx="551" cy="681" r="8"/><circle cx="559" cy="681" r="8"/><circle cx="567" cy="681" r="8"/><circle cx="573" cy="683" r="8"/><circle cx="677" cy="683" r="8"/><circle cx="677" cy="681" r="8"/><circle cx="732" cy="681" r="8"/><circle cx="736" cy="683" r="8"/><circle cx="739" cy="682" r="8"/><circle cx="548" cy="689" r="8"/><circle cx="551" cy="691" r="8"/><circle cx="559" cy="688" r="8"/><circle cx="569" cy="691" r="8"/><circle cx="571" cy="690" r="8"/><circle cx="676" cy="686" r="8"/><circle cx="676" cy="686" r="8"/><circle cx="731" cy="686" r="8"/><circle cx="732" cy="688" r="8"/><circle cx="549" cy="693" r="8"/><circle cx="549" cy="694" r="8"/><circle cx="572" cy="698" r="8"/><circle cx="572" cy="698" r="8"/><circle cx="743" cy="699" r="8"/><circle cx="572" cy="707" r="8"/><circle cx="572" cy="707" r="8"/><circle cx="552" cy="714" r="8"/><circle cx="571" cy="712" r="8"/><circle cx="573" cy="710" r="8"/><circle cx="647" cy="721" r="8"/><circle cx="624" cy="730" r="8"/><circle cx="568" cy="750" r="8"/><circle cx="652" cy="670" r="8"/><circle cx="623" cy="694" r="8"/><circle cx="612" cy="712" r="8"/><circle cx="700" cy="716" r="8"/><circle cx="864" cy="567" r="8"/><circle cx="991" cy="611" r="8"/><circle cx="769" cy="621" r="8"/><circle cx="772" cy="622" r="8"/><circle cx="864" cy="621" r="8"/><circle cx="1005" cy="621" r="8"/><circle cx="768" cy="626" r="8"/><circle cx="775" cy="627" r="8"/><circle cx="784" cy="630" r="8"/><circle cx="792" cy="629" r="8"/><circle cx="800" cy="629" r="8"/><circle cx="804" cy="631" r="8"/><circle cx="835" cy="630" r="8"/><circle cx="836" cy="628" r="8"/><circle cx="867" cy="626" r="8"/><circle cx="869" cy="630" r="8"/><circle cx="1005" cy="626" r="8"/><circle cx="768" cy="633" r="8"/><circle cx="775" cy="635" r="8"/><circle cx="785" cy="635" r="8"/><circle cx="791" cy="633" r="8"/><circle cx="799" cy="633" r="8"/><circle cx="804" cy="634" r="8"/><circle cx="836" cy="634" r="8"/><circle cx="841" cy="633" r="8"/><circle cx="848" cy="638" r="8"/><circle cx="856" cy="636" r="8"/><circle cx="865" cy="635" r="8"/><circle cx="871" cy="633" r="8"/><circle cx="877" cy="638" r="8"/><circle cx="943" cy="639" r="8"/><circle cx="996" cy="638" r="8"/><circle cx="999" cy="633" r="8"/><circle cx="769" cy="642" r="8"/><circle cx="777" cy="642" r="8"/><circle cx="785" cy="643" r="8"/><circle cx="792" cy="642" r="8"/><circle cx="799" cy="643" r="8"/><circle cx="808" cy="642" r="8"/><circle cx="817" cy="645" r="8"/><circle cx="825" cy="644" r="8"/><circle cx="833" cy="643" r="8"/><circle cx="839" cy="642" r="8"/><circle cx="849" cy="642" r="8"/><circle cx="856" cy="641" r="8"/><circle cx="863" cy="642" r="8"/><circle cx="872" cy="641" r="8"/><circle cx="880" cy="641" r="8"/><circle cx="889" cy="646" r="8"/><circle cx="895" cy="645" r="8"/><circle cx="904" cy="645" r="8"/><circle cx="913" cy="645" r="8"/><circle cx="919" cy="647" r="8"/><circle cx="927" cy="646" r="8"/><circle cx="936" cy="646" r="8"/><circle cx="944" cy="643" r="8"/><circle cx="951" cy="646" r="8"/><circle cx="960" cy="645" r="8"/><circle cx="969" cy="646" r="8"/><circle cx="975" cy="645" r="8"/><circle cx="984" cy="645" r="8"/><circle cx="991" cy="641" r="8"/><circle cx="999" cy="643" r="8"/><circle cx="768" cy="649" r="8"/><circle cx="776" cy="650" r="8"/><circle cx="784" cy="649" r="8"/><circle cx="791" cy="649" r="8"/><circle cx="801" cy="651" r="8"/><circle cx="807" cy="651" r="8"/><circle cx="817" cy="650" r="8"/><circle cx="823" cy="650" r="8"/><circle cx="832" cy="649" r="8"/><circle cx="840" cy="649" r="8"/><circle cx="849" cy="650" r="8"/><circle cx="856" cy="651" r="8"/><circle cx="864" cy="649" r="8"/><circle cx="871" cy="649" r="8"/><circle cx="879" cy="651" r="8"/><circle cx="889" cy="649" r="8"/><circle cx="895" cy="650" r="8"/><circle cx="905" cy="651" r="8"/><circle cx="911" cy="651" r="8"/><circle cx="921" cy="651" r="8"/><circle cx="928" cy="649" r="8"/><circle cx="937" cy="650" r="8"/><circle cx="944" cy="650" r="8"/><circle cx="952" cy="651" r="8"/><circle cx="959" cy="649" r="8"/><circle cx="968" cy="650" r="8"/><circle cx="977" cy="651" r="8"/><circle cx="985" cy="651" r="8"/><circle cx="992" cy="650" r="8"/><circle cx="999" cy="649" r="8"/><circle cx="768" cy="657" r="8"/><circle cx="776" cy="657" r="8"/><circle cx="784" cy="656" r="8"/><circle cx="791" cy="653" r="8"/><circle cx="800" cy="654" r="8"/><circle cx="809" cy="657" r="8"/><circle cx="817" cy="659" r="8"/><circle cx="825" cy="658" r="8"/><circle cx="831" cy="658" r="8"/><circle cx="840" cy="654" r="8"/><circle cx="848" cy="654" r="8"/><circle cx="856" cy="659" r="8"/><circle cx="865" cy="657" r="8"/><circle cx="871" cy="658" r="8"/><circle cx="880" cy="658" r="8"/><circle cx="887" cy="653" r="8"/><circle cx="896" cy="658" r="8"/><circle cx="905" cy="659" r="8"/><circle cx="913" cy="659" r="8"/><circle cx="921" cy="658" r="8"/><circle cx="929" cy="657" r="8"/><circle cx="936" cy="658" r="8"/><circle cx="943" cy="658" r="8"/><circle cx="953" cy="658" r="8"/><circle cx="960" cy="657" r="8"/><circle cx="968" cy="659" r="8"/><circle cx="975" cy="657" r="8"/><circle cx="984" cy="654" r="8"/><circle cx="991" cy="658" r="8"/><circle cx="1000" cy="658" r="8"/><circle cx="768" cy="662" r="8"/><circle cx="773" cy="662" r="8"/><circle cx="811" cy="665" r="8"/><circle cx="816" cy="665" r="8"/><circle cx="824" cy="666" r="8"/><circle cx="828" cy="663" r="8"/><circle cx="859" cy="661" r="8"/><circle cx="864" cy="663" r="8"/><circle cx="872" cy="667" r="8"/><circle cx="877" cy="665" r="8"/><circle cx="899" cy="663" r="8"/><circle cx="904" cy="662" r="8"/><circle cx="913" cy="663" r="8"/><circle cx="921" cy="661" r="8"/><circle cx="929" cy="661" r="8"/><circle cx="935" cy="666" r="8"/><circle cx="943" cy="666" r="8"/><circle cx="951" cy="665" r="8"/><circle cx="961" cy="666" r="8"/><circle cx="969" cy="666" r="8"/><circle cx="973" cy="666" r="8"/><circle cx="995" cy="663" r="8"/><circle cx="1000" cy="663" r="8"/><circle cx="812" cy="671" r="8"/><circle cx="815" cy="672" r="8"/><circle cx="821" cy="670" r="8"/><circle cx="876" cy="671" r="8"/><circle cx="875" cy="669" r="8"/><circle cx="939" cy="671" r="8"/><circle cx="944" cy="673" r="8"/><circle cx="953" cy="674" r="8"/><circle cx="960" cy="675" r="8"/><circle cx="969" cy="673" r="8"/><circle cx="972" cy="673" r="8"/><circle cx="912" cy="681" r="8"/><circle cx="947" cy="678" r="8"/><circle cx="951" cy="682" r="8"/><circle cx="960" cy="683" r="8"/><circle cx="969" cy="677" r="8"/><circle cx="976" cy="679" r="8"/><circle cx="981" cy="686" r="8"/><circle cx="919" cy="690" r="8"/><circle cx="956" cy="686" r="8"/><circle cx="956" cy="686" r="8"/><circle cx="983" cy="687" r="8"/><circle cx="977" cy="706" r="8"/><circle cx="967" cy="723" r="8"/><circle cx="804" cy="711" r="8"/><circle cx="1139" cy="581" r="8"/><circle cx="1142" cy="582" r="8"/><circle cx="1065" cy="586" r="8"/><circle cx="1140" cy="582" r="8"/><circle cx="1140" cy="582" r="8"/><circle cx="1121" cy="606" r="8"/><circle cx="1151" cy="602" r="8"/><circle cx="1023" cy="615" r="8"/><circle cx="1040" cy="609" r="8"/><circle cx="1081" cy="613" r="8"/><circle cx="1121" cy="609" r="8"/><circle cx="1180" cy="613" r="8"/><circle cx="1180" cy="614" r="8"/><circle cx="1199" cy="614" r="8"/><circle cx="1008" cy="623" r="8"/><circle cx="1016" cy="623" r="8"/><circle cx="1019" cy="618" r="8"/><circle cx="1079" cy="614" r="8"/><circle cx="1123" cy="618" r="8"/><circle cx="1124" cy="623" r="8"/><circle cx="1151" cy="619" r="8"/><circle cx="1172" cy="621" r="8"/><circle cx="1176" cy="617" r="8"/><circle cx="1181" cy="618" r="8"/><circle cx="1204" cy="619" r="8"/><circle cx="1208" cy="620" r="8"/><circle cx="1212" cy="622" r="8"/><circle cx="1009" cy="626" r="8"/><circle cx="1016" cy="625" r="8"/><circle cx="1025" cy="625" r="8"/><circle cx="1033" cy="631" r="8"/><circle cx="1041" cy="630" r="8"/><circle cx="1044" cy="629" r="8"/><circle cx="1091" cy="629" r="8"/><circle cx="1095" cy="631" r="8"/><circle cx="1105" cy="629" r="8"/><circle cx="1113" cy="628" r="8"/><circle cx="1120" cy="627" r="8"/><circle cx="1128" cy="627" r="8"/><circle cx="1136" cy="628" r="8"/><circle cx="1140" cy="629" r="8"/><circle cx="1163" cy="630" r="8"/><circle cx="1167" cy="625" r="8"/><circle cx="1176" cy="625" r="8"/><circle cx="1184" cy="627" r="8"/><circle cx="1192" cy="629" r="8"/><circle cx="1199" cy="626" r="8"/><circle cx="1207" cy="626" r="8"/><circle cx="1211" cy="626" r="8"/><circle cx="1236" cy="629" r="8"/><circle cx="1239" cy="631" r="8"/><circle cx="1008" cy="635" r="8"/><circle cx="1017" cy="634" r="8"/><circle cx="1023" cy="633" r="8"/><circle cx="1033" cy="633" r="8"/><circle cx="1040" cy="634" r="8"/><circle cx="1047" cy="634" r="8"/><circle cx="1055" cy="638" r="8"/><circle cx="1064" cy="637" r="8"/><circle cx="1071" cy="637" r="8"/><circle cx="1079" cy="637" r="8"/><circle cx="1087" cy="635" r="8"/><circle cx="1096" cy="635" r="8"/><circle cx="1103" cy="635" r="8"/><circle cx="1112" cy="635" r="8"/><circle cx="1120" cy="634" r="8"/><circle cx="1127" cy="635" r="8"/><circle cx="1135" cy="633" r="8"/><circle cx="1143" cy="634" r="8"/><circle cx="1152" cy="637" r="8"/><circle cx="1161" cy="633" r="8"/><circle cx="1168" cy="633" r="8"/><circle cx="1176" cy="635" r="8"/><circle cx="1185" cy="633" r="8"/><circle cx="1191" cy="634" r="8"/><circle cx="1201" cy="633" r="8"/><circle cx="1208" cy="634" r="8"/><circle cx="1217" cy="634" r="8"/><circle cx="1225" cy="638" r="8"/><circle cx="1233" cy="633" r="8"/><circle cx="1241" cy="634" r="8"/><circle cx="1008" cy="641" r="8"/><circle cx="1015" cy="643" r="8"/><circle cx="1024" cy="641" r="8"/><circle cx="1032" cy="641" r="8"/><circle cx="1039" cy="641" r="8"/><circle cx="1048" cy="643" r="8"/><circle cx="1057" cy="643" r="8"/><circle cx="1064" cy="642" r="8"/><circle cx="1073" cy="643" r="8"/><circle cx="1081" cy="642" r="8"/><circle cx="1087" cy="642" r="8"/><circle cx="1097" cy="643" r="8"/><circle cx="1103" cy="643" r="8"/><circle cx="1112" cy="641" r="8"/><circle cx="1121" cy="642" r="8"/><circle cx="1129" cy="641" r="8"/><circle cx="1137" cy="643" r="8"/><circle cx="1145" cy="643" r="8"/><circle cx="1153" cy="643" r="8"/><circle cx="1160" cy="642" r="8"/><circle cx="1169" cy="643" r="8"/><circle cx="1177" cy="641" r="8"/><circle cx="1185" cy="642" r="8"/><circle cx="1193" cy="641" r="8"/><circle cx="1201" cy="643" r="8"/><circle cx="1207" cy="643" r="8"/><circle cx="1215" cy="641" r="8"/><circle cx="1224" cy="641" r="8"/><circle cx="1232" cy="643" r="8"/><circle cx="1240" cy="643" r="8"/><circle cx="1008" cy="651" r="8"/><circle cx="1017" cy="650" r="8"/><circle cx="1025" cy="651" r="8"/><circle cx="1032" cy="649" r="8"/><circle cx="1040" cy="651" r="8"/><circle cx="1048" cy="650" r="8"/><circle cx="1057" cy="651" r="8"/><circle cx="1063" cy="650" r="8"/><circle cx="1071" cy="649" r="8"/><circle cx="1081" cy="650" r="8"/><circle cx="1088" cy="650" r="8"/><circle cx="1096" cy="649" r="8"/><circle cx="1104" cy="651" r="8"/><circle cx="1112" cy="649" r="8"/><circle cx="1119" cy="649" r="8"/><circle cx="1129" cy="650" r="8"/><circle cx="1136" cy="651" r="8"/><circle cx="1143" cy="650" r="8"/><circle cx="1151" cy="651" r="8"/><circle cx="1159" cy="649" r="8"/><circle cx="1169" cy="650" r="8"/><circle cx="1175" cy="651" r="8"/><circle cx="1184" cy="651" r="8"/><circle cx="1192" cy="650" r="8"/><circle cx="1201" cy="650" r="8"/><circle cx="1209" cy="649" r="8"/><circle cx="1217" cy="649" r="8"/><circle cx="1224" cy="649" r="8"/><circle cx="1231" cy="651" r="8"/><circle cx="1240" cy="651" r="8"/><circle cx="1007" cy="658" r="8"/><circle cx="1015" cy="655" r="8"/><circle cx="1025" cy="654" r="8"/><circle cx="1032" cy="656" r="8"/><circle cx="1041" cy="655" r="8"/><circle cx="1047" cy="658" r="8"/><circle cx="1056" cy="659" r="8"/><circle cx="1064" cy="658" r="8"/><circle cx="1072" cy="654" r="8"/><circle cx="1080" cy="655" r="8"/><circle cx="1089" cy="654" r="8"/><circle cx="1096" cy="656" r="8"/><circle cx="1103" cy="655" r="8"/><circle cx="1112" cy="658" r="8"/><circle cx="1120" cy="659" r="8"/><circle cx="1129" cy="659" r="8"/><circle cx="1137" cy="657" r="8"/><circle cx="1144" cy="657" r="8"/><circle cx="1153" cy="655" r="8"/><circle cx="1159" cy="655" r="8"/><circle cx="1168" cy="653" r="8"/><circle cx="1176" cy="655" r="8"/><circle cx="1184" cy="654" r="8"/><circle cx="1193" cy="654" r="8"/><circle cx="1200" cy="654" r="8"/><circle cx="1209" cy="655" r="8"/><circle cx="1217" cy="655" r="8"/><circle cx="1224" cy="656" r="8"/><circle cx="1233" cy="655" r="8"/><circle cx="1239" cy="654" r="8"/><circle cx="1005" cy="667" r="8"/><circle cx="1051" cy="661" r="8"/><circle cx="1055" cy="662" r="8"/><circle cx="1062" cy="664" r="8"/><circle cx="1117" cy="662" r="8"/><circle cx="1119" cy="663" r="8"/><circle cx="1128" cy="663" r="8"/><circle cx="1136" cy="663" r="8"/><circle cx="1140" cy="661" r="8"/><circle cx="1005" cy="674" r="8"/><circle cx="1081" cy="677" r="8"/><circle cx="1003" cy="679" r="8"/><circle cx="1080" cy="679" r="8"/><circle cx="1168" cy="683" r="8"/><circle cx="1183" cy="683" r="8"/><circle cx="1144" cy="689" r="8"/><circle cx="1247" cy="633" r="8"/><circle cx="1256" cy="634" r="8"/><circle cx="1263" cy="634" r="8"/><circle cx="1273" cy="634" r="8"/><circle cx="1278" cy="635" r="8"/><circle cx="1308" cy="635" r="8"/><circle cx="1309" cy="633" r="8"/><circle cx="1405" cy="635" r="8"/><circle cx="1408" cy="635" r="8"/><circle cx="1417" cy="635" r="8"/><circle cx="1425" cy="634" r="8"/><circle cx="1427" cy="635" r="8"/><circle cx="1464" cy="634" r="8"/><circle cx="1249" cy="641" r="8"/><circle cx="1256" cy="642" r="8"/><circle cx="1264" cy="643" r="8"/><circle cx="1272" cy="643" r="8"/><circle cx="1280" cy="643" r="8"/><circle cx="1287" cy="645" r="8"/><circle cx="1295" cy="647" r="8"/><circle cx="1303" cy="641" r="8"/><circle cx="1313" cy="643" r="8"/><circle cx="1319" cy="645" r="8"/><circle cx="1328" cy="646" r="8"/><circle cx="1333" cy="646" r="8"/><circle cx="1354" cy="646" r="8"/><circle cx="1359" cy="645" r="8"/><circle cx="1366" cy="646" r="8"/><circle cx="1388" cy="646" r="8"/><circle cx="1392" cy="646" r="8"/><circle cx="1399" cy="641" r="8"/><circle cx="1407" cy="641" r="8"/><circle cx="1416" cy="641" r="8"/><circle cx="1423" cy="642" r="8"/><circle cx="1433" cy="642" r="8"/><circle cx="1439" cy="646" r="8"/><circle cx="1447" cy="645" r="8"/><circle cx="1455" cy="645" r="8"/><circle cx="1461" cy="642" r="8"/><circle cx="1484" cy="645" r="8"/><circle cx="1249" cy="650" r="8"/><circle cx="1257" cy="645" r="8"/><circle cx="1265" cy="646" r="8"/><circle cx="1273" cy="651" r="8"/><circle cx="1280" cy="646" r="8"/><circle cx="1287" cy="649" r="8"/><circle cx="1297" cy="649" r="8"/><circle cx="1304" cy="650" r="8"/><circle cx="1312" cy="649" r="8"/><circle cx="1319" cy="649" r="8"/><circle cx="1329" cy="650" r="8"/><circle cx="1336" cy="650" r="8"/><circle cx="1343" cy="652" r="8"/><circle cx="1351" cy="651" r="8"/><circle cx="1359" cy="651" r="8"/><circle cx="1368" cy="651" r="8"/><circle cx="1375" cy="654" r="8"/><circle cx="1383" cy="646" r="8"/><circle cx="1392" cy="649" r="8"/><circle cx="1399" cy="651" r="8"/><circle cx="1407" cy="650" r="8"/><circle cx="1417" cy="649" r="8"/><circle cx="1423" cy="649" r="8"/><circle cx="1432" cy="650" r="8"/><circle cx="1440" cy="650" r="8"/><circle cx="1449" cy="649" r="8"/><circle cx="1456" cy="651" r="8"/><circle cx="1460" cy="649" r="8"/><circle cx="1483" cy="647" r="8"/><circle cx="1243" cy="657" r="8"/><circle cx="1271" cy="657" r="8"/><circle cx="1293" cy="658" r="8"/><circle cx="1295" cy="657" r="8"/><circle cx="1305" cy="658" r="8"/><circle cx="1313" cy="659" r="8"/><circle cx="1321" cy="657" r="8"/><circle cx="1329" cy="658" r="8"/><circle cx="1335" cy="657" r="8"/><circle cx="1345" cy="657" r="8"/><circle cx="1351" cy="657" r="8"/><circle cx="1361" cy="658" r="8"/><circle cx="1369" cy="657" r="8"/><circle cx="1372" cy="658" r="8"/><circle cx="1395" cy="658" r="8"/><circle cx="1400" cy="657" r="8"/><circle cx="1409" cy="658" r="8"/><circle cx="1415" cy="657" r="8"/><circle cx="1424" cy="658" r="8"/><circle cx="1431" cy="658" r="8"/><circle cx="1441" cy="658" r="8"/><circle cx="1447" cy="658" r="8"/><circle cx="1456" cy="658" r="8"/><circle cx="1459" cy="659" r="8"/><circle cx="1248" cy="618" r="8"/><circle cx="1248" cy="626" r="8"/><circle cx="1418" cy="620" r="8"/><circle cx="1424" cy="626" r="8"/><circle cx="1431" cy="632" r="8"/><circle cx="1437" cy="637" r="8"/><circle cx="1271" cy="661" r="8"/><circle cx="1343" cy="663" r="8"/><circle cx="1370" cy="665" r="8"/><circle cx="1403" cy="665" r="8"/><circle cx="1406" cy="674" r="8"/><circle cx="1442" cy="662" r="8"/><circle cx="1468" cy="670" r="8"/><circle cx="1468" cy="680" r="8"/><circle cx="1483" cy="628" r="8"/><circle cx="1403" cy="638" r="8"/><circle cx="1386" cy="642" r="8"/><circle cx="1463" cy="639" r="8"/><circle cx="1488" cy="628" r="8"/><circle cx="1489" cy="646" r="8"/><circle cx="1496" cy="646" r="8"/><circle cx="1500" cy="606" r="8"/><circle cx="1509" cy="631" r="8"/><circle cx="1516" cy="636" r="8"/><circle cx="1522" cy="639" r="8"/><circle cx="1536" cy="627" r="8"/><circle cx="1538" cy="639" r="8"/><circle cx="1529" cy="644" r="8"/><circle cx="1523" cy="646" r="8"/><circle cx="1542" cy="649" r="8"/><circle cx="1536" cy="654" r="8"/><circle cx="1529" cy="657" r="8"/><circle cx="1523" cy="661" r="8"/><circle cx="1546" cy="655" r="8"/><circle cx="1549" cy="652" r="8"/><circle cx="1516" cy="644" r="8"/><circle cx="1572" cy="646" r="8"/><circle cx="1577" cy="650" r="8"/><circle cx="1586" cy="649" r="8"/><circle cx="1597" cy="622" r="8"/><circle cx="1599" cy="633" r="8"/><circle cx="1606" cy="639" r="8"/><circle cx="1614" cy="641" r="8"/><circle cx="1616" cy="644" r="8"/><circle cx="1594" cy="646" r="8"/><circle cx="1601" cy="644" r="8"/><circle cx="1608" cy="649" r="8"/><circle cx="571" cy="750" r="8"/><circle cx="622" cy="770" r="8"/><circle cx="992" cy="759" r="8"/><circle cx="997" cy="769" r="8"/><circle cx="993" cy="783" r="8"/><circle cx="1004" cy="772" r="8"/>
</g>
</g>
<line x1="284.4" y1="648.9" x2="1748.4" y2="648.9" stroke="#000" stroke-width="3.9"/>
<g stroke="#000" stroke-width="3.9"><line x1="467.4" y1="1238.4" x2="467.4" y2="1225.4"/><line x1="650.4" y1="1238.4" x2="650.4" y2="1225.4"/><line x1="833.4" y1="1238.4" x2="833.4" y2="1225.4"/><line x1="1016.4" y1="1238.4" x2="1016.4" y2="1225.4"/><line x1="1199.4" y1="1238.4" x2="1199.4" y2="1225.4"/><line x1="1382.4" y1="1238.4" x2="1382.4" y2="1225.4"/><line x1="1565.4" y1="1238.4" x2="1565.4" y2="1225.4"/><line x1="284.4" y1="1120.5" x2="297.4" y2="1120.5"/><line x1="284.4" y1="1002.6" x2="297.4" y2="1002.6"/><line x1="284.4" y1="884.7" x2="297.4" y2="884.7"/><line x1="284.4" y1="766.8" x2="297.4" y2="766.8"/><line x1="284.4" y1="530.9" x2="297.4" y2="530.9"/><line x1="284.4" y1="413.0" x2="297.4" y2="413.0"/><line x1="284.4" y1="295.1" x2="297.4" y2="295.1"/><line x1="284.4" y1="177.2" x2="297.4" y2="177.2"/></g>
<rect x="284.4" y="59.3" width="1464.0" height="1179.1000000000001" fill="none" stroke="#000" stroke-width="4.2"/>
<g font-size="56.7"><text x="284.4" y="1298" text-anchor="middle">0</text><text x="467.4" y="1298" text-anchor="middle">2000</text><text x="650.4" y="1298" text-anchor="middle">4000</text><text x="833.4" y="1298" text-anchor="middle">6000</text><text x="1016.4" y="1298" text-anchor="middle">8000</text><text x="1199.4" y="1298" text-anchor="middle">10,000</text><text x="1382.4" y="1298" text-anchor="middle">12,000</text><text x="1565.4" y="1298" text-anchor="middle">14,000</text><text x="1748.4" y="1298" text-anchor="middle">16,000</text><text x="268.6" y="1255.7" text-anchor="end">−5000</text><text x="268.6" y="1137.8" text-anchor="end">−4000</text><text x="268.6" y="1019.9" text-anchor="end">−3000</text><text x="268.6" y="902.0" text-anchor="end">−2000</text><text x="268.6" y="784.1" text-anchor="end">−1000</text><text x="268.6" y="666.1" text-anchor="end">0</text><text x="268.6" y="548.2" text-anchor="end">1000</text><text x="268.6" y="430.3" text-anchor="end">2000</text><text x="268.6" y="312.4" text-anchor="end">3000</text><text x="268.6" y="194.5" text-anchor="end">4000</text><text x="268.6" y="76.6" text-anchor="end">5000</text></g>
<text x="1016" y="1392.5" font-size="61.7" text-anchor="middle">Prediction distance (m)</text>
<text transform="translate(76.8 647) rotate(-90)" font-size="61.7" text-anchor="middle">Residual error(m)</text>
<rect x="350.4" y="89.3" width="335.3" height="310.4" fill="#fff" stroke="#000" stroke-width="2.4"/>
<circle cx="427" cy="131.3" r="7.8" fill="#F76C6C"/>
<text x="509.7" y="152.6" font-size="61.7">RF</text>
<circle cx="427" cy="206.9" r="7.8" fill="#6CF76C"/>
<text x="509.7" y="228.2" font-size="61.7">GBDT</text>
<circle cx="427" cy="282.5" r="7.8" fill="#80CEFB"/>
<text x="509.7" y="303.9" font-size="61.7">SVM</text>
<circle cx="427" cy="358.1" r="7.8" fill="#ECE66B"/>
<text x="509.7" y="379.6" font-size="61.7">MLP</text>
</svg></body></html>
